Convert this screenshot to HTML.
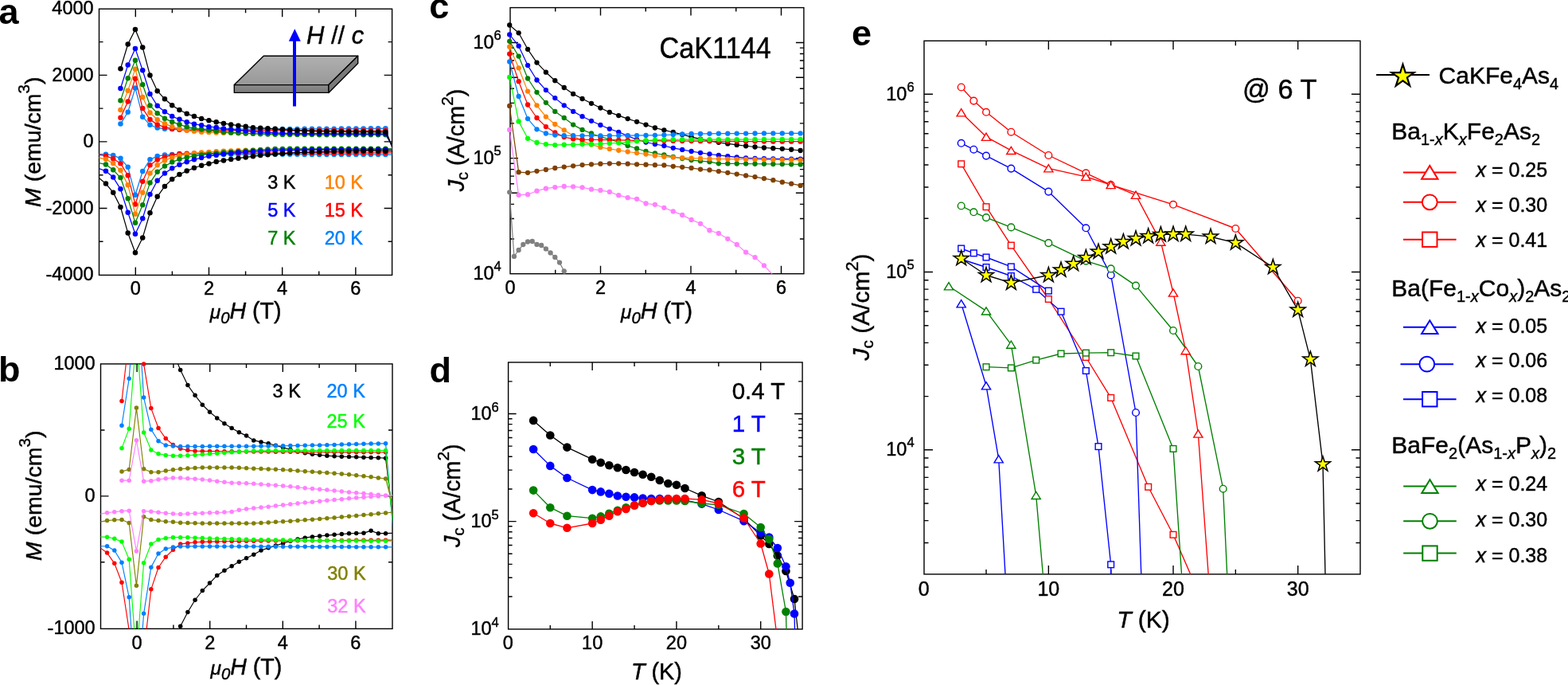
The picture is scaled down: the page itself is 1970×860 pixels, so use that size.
<!DOCTYPE html>
<html><head><meta charset="utf-8"><title>Figure</title><style>html,body{margin:0;padding:0;background:#fff;width:1970px;height:860px;overflow:hidden}svg{display:block}</style></head><body>
<svg width="1970" height="860" viewBox="0 0 1970 860" font-family="&quot;Liberation Sans&quot;, Arial, Helvetica, sans-serif"><clipPath id="ca"><rect x="124.5" y="11.2" width="368.1" height="334.2"/></clipPath>
<defs><linearGradient id="gtop" x1="0" y1="0" x2="0" y2="1"><stop offset="0" stop-color="#b0b0b0"/><stop offset="1" stop-color="#989898"/></linearGradient><linearGradient id="gfront" x1="0" y1="0" x2="0" y2="1"><stop offset="0" stop-color="#8c8c8c"/><stop offset="1" stop-color="#7a7a7a"/></linearGradient></defs>
<g stroke="#000" stroke-width="1.4" stroke-linejoin="round"><path d="M294.3,106.6 L331.2,70.2 L449.7,70.2 L412.9,106.6 Z" fill="url(#gtop)"/><path d="M294.3,106.6 L412.9,106.6 L412.9,116.4 L294.3,116.4 Z" fill="url(#gfront)"/><path d="M412.9,106.6 L449.7,70.2 L449.7,79.5 L412.9,116.4 Z" fill="#7a7a7a"/></g>
<path d="M370,133.5 V50" stroke="#0000ff" stroke-width="4" fill="none"/>
<path d="M370.3,36.2 L377.8,51.8 L362.8,51.8 Z" fill="#0000ff"/>
<text x="385" y="54.6" font-size="31" stroke="#000" stroke-width="0.45"><tspan font-style="italic">H</tspan> // <tspan font-style="italic">c</tspan></text>
<rect x="124.5" y="11.2" width="368.1" height="334.2" fill="none" stroke="#000" stroke-width="1.4"/>
<path d="M170.3,345.4v-10M170.3,11.2v10M262.48,345.4v-10M262.48,11.2v10M354.66,345.4v-10M354.66,11.2v10M446.84,345.4v-10M446.84,11.2v10" stroke="#000" stroke-width="1.4" fill="none"/>
<path d="M216.39,345.4v-5M216.39,11.2v5M308.57,345.4v-5M308.57,11.2v5M400.75,345.4v-5M400.75,11.2v5" stroke="#000" stroke-width="1.4" fill="none"/>
<path d="M124.5,261.45h10M492.6,261.45h-10M124.5,177.9h10M492.6,177.9h-10M124.5,94.35h10M492.6,94.35h-10" stroke="#000" stroke-width="1.4" fill="none"/>
<path d="M124.5,303.23h5M492.6,303.23h-5M124.5,219.68h5M492.6,219.68h-5M124.5,136.12h5M492.6,136.12h-5M124.5,52.58h5M492.6,52.58h-5" stroke="#000" stroke-width="1.4" fill="none"/>
<polyline points="151.45,155.55 160.7,140.72 169.95,110.43 179.2,146.69 188.45,156.8 197.69,160.48 206.94,161.77 216.19,162.03 225.44,162.19 234.69,162.19 243.93,162.19 253.18,162.17 262.43,162.15 271.68,162.14 280.93,162.13 290.17,162.13 299.42,162.12 308.67,162.11 317.92,162.09 327.17,162.07 336.41,162.04 345.66,162.01 354.91,161.98 364.16,161.95 373.41,161.91 382.65,161.87 391.9,161.82 401.15,161.77 410.4,161.72 419.65,161.65 428.89,161.58 438.14,161.5 447.39,161.44 456.64,161.38 465.89,161.33 475.13,161.28 484.38,161.23 493.63,188.38" fill="none" stroke="#0080ff" stroke-width="1.25" stroke-linejoin="round" clip-path="url(#ca)"/>
<polyline points="123.71,193.73 132.96,193.73 142.21,195.07 151.45,198.87 160.7,209.86 169.95,244.74 179.2,215.04 188.45,200.37 197.69,196.07 206.94,194.53 216.19,194.07 225.44,193.77 234.69,193.77 243.93,193.77 253.18,193.77 262.43,193.77 271.68,193.78 280.93,193.79 290.17,193.8 299.42,193.81 308.67,193.82 317.92,193.82 327.17,193.83 336.41,193.84 345.66,193.85 354.91,193.86 364.16,193.86 373.41,193.87 382.65,193.88 391.9,193.89 401.15,193.9 410.4,193.91 419.65,193.92 428.89,193.93 438.14,193.94 447.39,193.96 456.64,193.97 465.89,193.98 475.13,194 484.38,194.01 493.63,194.03" fill="none" stroke="#0080ff" stroke-width="1.25" stroke-linejoin="round" clip-path="url(#ca)"/>
<g fill="#0080ff"><circle cx="151.45" cy="155.55" r="3.25"/><circle cx="160.7" cy="140.72" r="3.25"/><circle cx="169.95" cy="110.43" r="3.25"/><circle cx="179.2" cy="146.69" r="3.25"/><circle cx="188.45" cy="156.8" r="3.25"/><circle cx="197.69" cy="160.48" r="3.25"/><circle cx="206.94" cy="161.77" r="3.25"/><circle cx="216.19" cy="162.03" r="3.25"/><circle cx="225.44" cy="162.19" r="3.25"/><circle cx="234.69" cy="162.19" r="3.25"/><circle cx="243.93" cy="162.19" r="3.25"/><circle cx="253.18" cy="162.17" r="3.25"/><circle cx="262.43" cy="162.15" r="3.25"/><circle cx="271.68" cy="162.14" r="3.25"/><circle cx="280.93" cy="162.13" r="3.25"/><circle cx="290.17" cy="162.13" r="3.25"/><circle cx="299.42" cy="162.12" r="3.25"/><circle cx="308.67" cy="162.11" r="3.25"/><circle cx="317.92" cy="162.09" r="3.25"/><circle cx="327.17" cy="162.07" r="3.25"/><circle cx="336.41" cy="162.04" r="3.25"/><circle cx="345.66" cy="162.01" r="3.25"/><circle cx="354.91" cy="161.98" r="3.25"/><circle cx="364.16" cy="161.95" r="3.25"/><circle cx="373.41" cy="161.91" r="3.25"/><circle cx="382.65" cy="161.87" r="3.25"/><circle cx="391.9" cy="161.82" r="3.25"/><circle cx="401.15" cy="161.77" r="3.25"/><circle cx="410.4" cy="161.72" r="3.25"/><circle cx="419.65" cy="161.65" r="3.25"/><circle cx="428.89" cy="161.58" r="3.25"/><circle cx="438.14" cy="161.5" r="3.25"/><circle cx="447.39" cy="161.44" r="3.25"/><circle cx="456.64" cy="161.38" r="3.25"/><circle cx="465.89" cy="161.33" r="3.25"/><circle cx="475.13" cy="161.28" r="3.25"/><circle cx="484.38" cy="161.23" r="3.25"/></g>
<g fill="#0080ff"><circle cx="132.96" cy="193.73" r="3.25"/><circle cx="142.21" cy="195.07" r="3.25"/><circle cx="151.45" cy="198.87" r="3.25"/><circle cx="160.7" cy="209.86" r="3.25"/><circle cx="169.95" cy="244.74" r="3.25"/><circle cx="179.2" cy="215.04" r="3.25"/><circle cx="188.45" cy="200.37" r="3.25"/><circle cx="197.69" cy="196.07" r="3.25"/><circle cx="206.94" cy="194.53" r="3.25"/><circle cx="216.19" cy="194.07" r="3.25"/><circle cx="225.44" cy="193.77" r="3.25"/><circle cx="234.69" cy="193.77" r="3.25"/><circle cx="243.93" cy="193.77" r="3.25"/><circle cx="253.18" cy="193.77" r="3.25"/><circle cx="262.43" cy="193.77" r="3.25"/><circle cx="271.68" cy="193.78" r="3.25"/><circle cx="280.93" cy="193.79" r="3.25"/><circle cx="290.17" cy="193.8" r="3.25"/><circle cx="299.42" cy="193.81" r="3.25"/><circle cx="308.67" cy="193.82" r="3.25"/><circle cx="317.92" cy="193.82" r="3.25"/><circle cx="327.17" cy="193.83" r="3.25"/><circle cx="336.41" cy="193.84" r="3.25"/><circle cx="345.66" cy="193.85" r="3.25"/><circle cx="354.91" cy="193.86" r="3.25"/><circle cx="364.16" cy="193.86" r="3.25"/><circle cx="373.41" cy="193.87" r="3.25"/><circle cx="382.65" cy="193.88" r="3.25"/><circle cx="391.9" cy="193.89" r="3.25"/><circle cx="401.15" cy="193.9" r="3.25"/><circle cx="410.4" cy="193.91" r="3.25"/><circle cx="419.65" cy="193.92" r="3.25"/><circle cx="428.89" cy="193.93" r="3.25"/><circle cx="438.14" cy="193.94" r="3.25"/><circle cx="447.39" cy="193.96" r="3.25"/><circle cx="456.64" cy="193.97" r="3.25"/><circle cx="465.89" cy="193.98" r="3.25"/><circle cx="475.13" cy="194" r="3.25"/><circle cx="484.38" cy="194.01" r="3.25"/></g>
<polyline points="151.45,147.82 160.7,127.52 169.95,98.65 179.2,136.12 188.45,150.12 197.69,156.39 206.94,159.69 216.19,161.69 225.44,162.86 234.69,163.4 243.93,163.61 253.18,163.67 262.43,163.7 271.68,163.73 280.93,163.76 290.17,163.78 299.42,163.81 308.67,163.82 317.92,163.83 327.17,163.84 336.41,163.85 345.66,163.85 354.91,163.86 364.16,163.88 373.41,163.9 382.65,163.92 391.9,163.93 401.15,163.95 410.4,163.96 419.65,163.97 428.89,163.97 438.14,163.98 447.39,163.99 456.64,164 465.89,164.01 475.13,164.02 484.38,164.03 493.63,186.94" fill="none" stroke="#ff0000" stroke-width="1.25" stroke-linejoin="round" clip-path="url(#ca)"/>
<polyline points="123.71,194.15 132.96,195.82 142.21,199.16 151.45,205.18 160.7,220.26 169.95,256.56 179.2,227.78 188.45,207.35 197.69,200.46 206.94,197.12 216.19,194.86 225.44,193.02 234.69,192.77 243.93,192.48 253.18,192.38 262.43,192.31 271.68,192.26 280.93,192.21 290.17,192.17 299.42,192.13 308.67,192.1 317.92,192.08 327.17,192.06 336.41,192.04 345.66,192.02 354.91,192.01 364.16,191.99 373.41,191.98 382.65,191.96 391.9,191.95 401.15,191.94 410.4,191.92 419.65,191.91 428.89,191.89 438.14,191.88 447.39,191.87 456.64,191.86 465.89,191.84 475.13,191.83 484.38,191.82 493.63,191.81" fill="none" stroke="#ff0000" stroke-width="1.25" stroke-linejoin="round" clip-path="url(#ca)"/>
<g fill="#ff0000"><circle cx="151.45" cy="147.82" r="3.25"/><circle cx="160.7" cy="127.52" r="3.25"/><circle cx="169.95" cy="98.65" r="3.25"/><circle cx="179.2" cy="136.12" r="3.25"/><circle cx="188.45" cy="150.12" r="3.25"/><circle cx="197.69" cy="156.39" r="3.25"/><circle cx="206.94" cy="159.69" r="3.25"/><circle cx="216.19" cy="161.69" r="3.25"/><circle cx="225.44" cy="162.86" r="3.25"/><circle cx="234.69" cy="163.4" r="3.25"/><circle cx="243.93" cy="163.61" r="3.25"/><circle cx="253.18" cy="163.67" r="3.25"/><circle cx="262.43" cy="163.7" r="3.25"/><circle cx="271.68" cy="163.73" r="3.25"/><circle cx="280.93" cy="163.76" r="3.25"/><circle cx="290.17" cy="163.78" r="3.25"/><circle cx="299.42" cy="163.81" r="3.25"/><circle cx="308.67" cy="163.82" r="3.25"/><circle cx="317.92" cy="163.83" r="3.25"/><circle cx="327.17" cy="163.84" r="3.25"/><circle cx="336.41" cy="163.85" r="3.25"/><circle cx="345.66" cy="163.85" r="3.25"/><circle cx="354.91" cy="163.86" r="3.25"/><circle cx="364.16" cy="163.88" r="3.25"/><circle cx="373.41" cy="163.9" r="3.25"/><circle cx="382.65" cy="163.92" r="3.25"/><circle cx="391.9" cy="163.93" r="3.25"/><circle cx="401.15" cy="163.95" r="3.25"/><circle cx="410.4" cy="163.96" r="3.25"/><circle cx="419.65" cy="163.97" r="3.25"/><circle cx="428.89" cy="163.97" r="3.25"/><circle cx="438.14" cy="163.98" r="3.25"/><circle cx="447.39" cy="163.99" r="3.25"/><circle cx="456.64" cy="164" r="3.25"/><circle cx="465.89" cy="164.01" r="3.25"/><circle cx="475.13" cy="164.02" r="3.25"/><circle cx="484.38" cy="164.03" r="3.25"/></g>
<g fill="#ff0000"><circle cx="132.96" cy="195.82" r="3.25"/><circle cx="142.21" cy="199.16" r="3.25"/><circle cx="151.45" cy="205.18" r="3.25"/><circle cx="160.7" cy="220.26" r="3.25"/><circle cx="169.95" cy="256.56" r="3.25"/><circle cx="179.2" cy="227.78" r="3.25"/><circle cx="188.45" cy="207.35" r="3.25"/><circle cx="197.69" cy="200.46" r="3.25"/><circle cx="206.94" cy="197.12" r="3.25"/><circle cx="216.19" cy="194.86" r="3.25"/><circle cx="225.44" cy="193.02" r="3.25"/><circle cx="234.69" cy="192.77" r="3.25"/><circle cx="243.93" cy="192.48" r="3.25"/><circle cx="253.18" cy="192.38" r="3.25"/><circle cx="262.43" cy="192.31" r="3.25"/><circle cx="271.68" cy="192.26" r="3.25"/><circle cx="280.93" cy="192.21" r="3.25"/><circle cx="290.17" cy="192.17" r="3.25"/><circle cx="299.42" cy="192.13" r="3.25"/><circle cx="308.67" cy="192.1" r="3.25"/><circle cx="317.92" cy="192.08" r="3.25"/><circle cx="327.17" cy="192.06" r="3.25"/><circle cx="336.41" cy="192.04" r="3.25"/><circle cx="345.66" cy="192.02" r="3.25"/><circle cx="354.91" cy="192.01" r="3.25"/><circle cx="364.16" cy="191.99" r="3.25"/><circle cx="373.41" cy="191.98" r="3.25"/><circle cx="382.65" cy="191.96" r="3.25"/><circle cx="391.9" cy="191.95" r="3.25"/><circle cx="401.15" cy="191.94" r="3.25"/><circle cx="410.4" cy="191.92" r="3.25"/><circle cx="419.65" cy="191.91" r="3.25"/><circle cx="428.89" cy="191.89" r="3.25"/><circle cx="438.14" cy="191.88" r="3.25"/><circle cx="447.39" cy="191.87" r="3.25"/><circle cx="456.64" cy="191.86" r="3.25"/><circle cx="465.89" cy="191.84" r="3.25"/><circle cx="475.13" cy="191.83" r="3.25"/><circle cx="484.38" cy="191.82" r="3.25"/></g>
<polyline points="151.45,138.05 160.7,113.65 169.95,86.66 179.2,121.92 188.45,141.51 197.69,150.2 206.94,155.13 216.19,159.1 225.44,161.61 234.69,163.61 243.93,164.82 253.18,165.7 262.43,166.12 271.68,166.41 280.93,166.66 290.17,166.87 299.42,167.06 308.67,167.25 317.92,167.43 327.17,167.61 336.41,167.77 345.66,167.91 354.91,168 364.16,168.06 373.41,168.12 382.65,168.17 391.9,168.2 401.15,168.21 410.4,168.21 419.65,168.21 428.89,168.21 438.14,168.21 447.39,168.21 456.64,168.21 465.89,168.21 475.13,168.21 484.38,168.21 493.63,184.2" fill="none" stroke="#ff8000" stroke-width="1.25" stroke-linejoin="round" clip-path="url(#ca)"/>
<polyline points="123.71,197.95 132.96,199.87 142.21,205.1 151.45,213.78 160.7,232.37 169.95,268.64 179.2,241.65 188.45,217.46 197.69,207.27 206.94,201.38 216.19,197.99 225.44,195.19 234.69,193.68 243.93,192.5 253.18,191.59 262.43,190.89 271.68,190.33 280.93,189.85 290.17,189.45 299.42,189.09 308.67,188.76 317.92,188.41 327.17,188.05 336.41,187.74 345.66,187.51 354.91,187.42 364.16,187.43 373.41,187.45 382.65,187.47 391.9,187.49 401.15,187.51 410.4,187.52 419.65,187.53 428.89,187.54 438.14,187.55 447.39,187.56 456.64,187.57 465.89,187.58 475.13,187.58 484.38,187.59 493.63,187.59" fill="none" stroke="#ff8000" stroke-width="1.25" stroke-linejoin="round" clip-path="url(#ca)"/>
<g fill="#ff8000"><circle cx="151.45" cy="138.05" r="3.25"/><circle cx="160.7" cy="113.65" r="3.25"/><circle cx="169.95" cy="86.66" r="3.25"/><circle cx="179.2" cy="121.92" r="3.25"/><circle cx="188.45" cy="141.51" r="3.25"/><circle cx="197.69" cy="150.2" r="3.25"/><circle cx="206.94" cy="155.13" r="3.25"/><circle cx="216.19" cy="159.1" r="3.25"/><circle cx="225.44" cy="161.61" r="3.25"/><circle cx="234.69" cy="163.61" r="3.25"/><circle cx="243.93" cy="164.82" r="3.25"/><circle cx="253.18" cy="165.7" r="3.25"/><circle cx="262.43" cy="166.12" r="3.25"/><circle cx="271.68" cy="166.41" r="3.25"/><circle cx="280.93" cy="166.66" r="3.25"/><circle cx="290.17" cy="166.87" r="3.25"/><circle cx="299.42" cy="167.06" r="3.25"/><circle cx="308.67" cy="167.25" r="3.25"/><circle cx="317.92" cy="167.43" r="3.25"/><circle cx="327.17" cy="167.61" r="3.25"/><circle cx="336.41" cy="167.77" r="3.25"/><circle cx="345.66" cy="167.91" r="3.25"/><circle cx="354.91" cy="168" r="3.25"/><circle cx="364.16" cy="168.06" r="3.25"/><circle cx="373.41" cy="168.12" r="3.25"/><circle cx="382.65" cy="168.17" r="3.25"/><circle cx="391.9" cy="168.2" r="3.25"/><circle cx="401.15" cy="168.21" r="3.25"/><circle cx="410.4" cy="168.21" r="3.25"/><circle cx="419.65" cy="168.21" r="3.25"/><circle cx="428.89" cy="168.21" r="3.25"/><circle cx="438.14" cy="168.21" r="3.25"/><circle cx="447.39" cy="168.21" r="3.25"/><circle cx="456.64" cy="168.21" r="3.25"/><circle cx="465.89" cy="168.21" r="3.25"/><circle cx="475.13" cy="168.21" r="3.25"/><circle cx="484.38" cy="168.21" r="3.25"/></g>
<g fill="#ff8000"><circle cx="132.96" cy="199.87" r="3.25"/><circle cx="142.21" cy="205.1" r="3.25"/><circle cx="151.45" cy="213.78" r="3.25"/><circle cx="160.7" cy="232.37" r="3.25"/><circle cx="169.95" cy="268.64" r="3.25"/><circle cx="179.2" cy="241.65" r="3.25"/><circle cx="188.45" cy="217.46" r="3.25"/><circle cx="197.69" cy="207.27" r="3.25"/><circle cx="206.94" cy="201.38" r="3.25"/><circle cx="216.19" cy="197.99" r="3.25"/><circle cx="225.44" cy="195.19" r="3.25"/><circle cx="234.69" cy="193.68" r="3.25"/><circle cx="243.93" cy="192.5" r="3.25"/><circle cx="253.18" cy="191.59" r="3.25"/><circle cx="262.43" cy="190.89" r="3.25"/><circle cx="271.68" cy="190.33" r="3.25"/><circle cx="280.93" cy="189.85" r="3.25"/><circle cx="290.17" cy="189.45" r="3.25"/><circle cx="299.42" cy="189.09" r="3.25"/><circle cx="308.67" cy="188.76" r="3.25"/><circle cx="317.92" cy="188.41" r="3.25"/><circle cx="327.17" cy="188.05" r="3.25"/><circle cx="336.41" cy="187.74" r="3.25"/><circle cx="345.66" cy="187.51" r="3.25"/><circle cx="354.91" cy="187.42" r="3.25"/><circle cx="364.16" cy="187.43" r="3.25"/><circle cx="373.41" cy="187.45" r="3.25"/><circle cx="382.65" cy="187.47" r="3.25"/><circle cx="391.9" cy="187.49" r="3.25"/><circle cx="401.15" cy="187.51" r="3.25"/><circle cx="410.4" cy="187.52" r="3.25"/><circle cx="419.65" cy="187.53" r="3.25"/><circle cx="428.89" cy="187.54" r="3.25"/><circle cx="438.14" cy="187.55" r="3.25"/><circle cx="447.39" cy="187.56" r="3.25"/><circle cx="456.64" cy="187.57" r="3.25"/><circle cx="465.89" cy="187.58" r="3.25"/><circle cx="475.13" cy="187.58" r="3.25"/><circle cx="484.38" cy="187.59" r="3.25"/></g>
<polyline points="151.45,126.14 160.7,98.28 169.95,75.68 179.2,106.26 188.45,132.45 197.69,142.14 206.94,148.82 216.19,152.92 225.44,156.3 234.69,159.31 243.93,161.02 253.18,162.4 262.43,163.61 271.68,164.82 280.93,165.7 290.17,166.39 299.42,166.98 308.67,167.46 317.92,167.85 327.17,168.22 336.41,168.54 345.66,168.78 354.91,168.92 364.16,168.99 373.41,169.04 382.65,169.09 391.9,169.12 401.15,169.13 410.4,169.13 419.65,169.13 428.89,169.13 438.14,169.13 447.39,169.13 456.64,169.13 465.89,169.13 475.13,169.13 484.38,169.13 493.63,183.66" fill="none" stroke="#008000" stroke-width="1.25" stroke-linejoin="round" clip-path="url(#ca)"/>
<polyline points="123.71,204.64 132.96,206.39 142.21,213.28 151.45,223.06 160.7,249.13 169.95,279.83 179.2,257.15 188.45,229.58 197.69,215.66 206.94,208.56 216.19,203.59 225.44,199.87 234.69,197.68 243.93,195.94 253.18,194.54 262.43,193.4 271.68,192.43 280.93,191.61 290.17,190.89 299.42,190.23 308.67,189.6 317.92,188.92 327.17,188.21 336.41,187.57 345.66,187.09 354.91,186.88 364.16,186.84 373.41,186.8 382.65,186.78 391.9,186.76 401.15,186.76 410.4,186.76 419.65,186.76 428.89,186.76 438.14,186.76 447.39,186.76 456.64,186.76 465.89,186.76 475.13,186.76 484.38,186.76 493.63,186.76" fill="none" stroke="#008000" stroke-width="1.25" stroke-linejoin="round" clip-path="url(#ca)"/>
<g fill="#008000"><circle cx="151.45" cy="126.14" r="3.25"/><circle cx="160.7" cy="98.28" r="3.25"/><circle cx="169.95" cy="75.68" r="3.25"/><circle cx="179.2" cy="106.26" r="3.25"/><circle cx="188.45" cy="132.45" r="3.25"/><circle cx="197.69" cy="142.14" r="3.25"/><circle cx="206.94" cy="148.82" r="3.25"/><circle cx="216.19" cy="152.92" r="3.25"/><circle cx="225.44" cy="156.3" r="3.25"/><circle cx="234.69" cy="159.31" r="3.25"/><circle cx="243.93" cy="161.02" r="3.25"/><circle cx="253.18" cy="162.4" r="3.25"/><circle cx="262.43" cy="163.61" r="3.25"/><circle cx="271.68" cy="164.82" r="3.25"/><circle cx="280.93" cy="165.7" r="3.25"/><circle cx="290.17" cy="166.39" r="3.25"/><circle cx="299.42" cy="166.98" r="3.25"/><circle cx="308.67" cy="167.46" r="3.25"/><circle cx="317.92" cy="167.85" r="3.25"/><circle cx="327.17" cy="168.22" r="3.25"/><circle cx="336.41" cy="168.54" r="3.25"/><circle cx="345.66" cy="168.78" r="3.25"/><circle cx="354.91" cy="168.92" r="3.25"/><circle cx="364.16" cy="168.99" r="3.25"/><circle cx="373.41" cy="169.04" r="3.25"/><circle cx="382.65" cy="169.09" r="3.25"/><circle cx="391.9" cy="169.12" r="3.25"/><circle cx="401.15" cy="169.13" r="3.25"/><circle cx="410.4" cy="169.13" r="3.25"/><circle cx="419.65" cy="169.13" r="3.25"/><circle cx="428.89" cy="169.13" r="3.25"/><circle cx="438.14" cy="169.13" r="3.25"/><circle cx="447.39" cy="169.13" r="3.25"/><circle cx="456.64" cy="169.13" r="3.25"/><circle cx="465.89" cy="169.13" r="3.25"/><circle cx="475.13" cy="169.13" r="3.25"/><circle cx="484.38" cy="169.13" r="3.25"/></g>
<g fill="#008000"><circle cx="132.96" cy="206.39" r="3.25"/><circle cx="142.21" cy="213.28" r="3.25"/><circle cx="151.45" cy="223.06" r="3.25"/><circle cx="160.7" cy="249.13" r="3.25"/><circle cx="169.95" cy="279.83" r="3.25"/><circle cx="179.2" cy="257.15" r="3.25"/><circle cx="188.45" cy="229.58" r="3.25"/><circle cx="197.69" cy="215.66" r="3.25"/><circle cx="206.94" cy="208.56" r="3.25"/><circle cx="216.19" cy="203.59" r="3.25"/><circle cx="225.44" cy="199.87" r="3.25"/><circle cx="234.69" cy="197.68" r="3.25"/><circle cx="243.93" cy="195.94" r="3.25"/><circle cx="253.18" cy="194.54" r="3.25"/><circle cx="262.43" cy="193.4" r="3.25"/><circle cx="271.68" cy="192.43" r="3.25"/><circle cx="280.93" cy="191.61" r="3.25"/><circle cx="290.17" cy="190.89" r="3.25"/><circle cx="299.42" cy="190.23" r="3.25"/><circle cx="308.67" cy="189.6" r="3.25"/><circle cx="317.92" cy="188.92" r="3.25"/><circle cx="327.17" cy="188.21" r="3.25"/><circle cx="336.41" cy="187.57" r="3.25"/><circle cx="345.66" cy="187.09" r="3.25"/><circle cx="354.91" cy="186.88" r="3.25"/><circle cx="364.16" cy="186.84" r="3.25"/><circle cx="373.41" cy="186.8" r="3.25"/><circle cx="382.65" cy="186.78" r="3.25"/><circle cx="391.9" cy="186.76" r="3.25"/><circle cx="401.15" cy="186.76" r="3.25"/><circle cx="410.4" cy="186.76" r="3.25"/><circle cx="419.65" cy="186.76" r="3.25"/><circle cx="428.89" cy="186.76" r="3.25"/><circle cx="438.14" cy="186.76" r="3.25"/><circle cx="447.39" cy="186.76" r="3.25"/><circle cx="456.64" cy="186.76" r="3.25"/><circle cx="465.89" cy="186.76" r="3.25"/><circle cx="475.13" cy="186.76" r="3.25"/><circle cx="484.38" cy="186.76" r="3.25"/></g>
<polyline points="151.45,111.06 160.7,81.57 169.95,61.1 179.2,88.25 188.45,118.04 197.69,132.82 206.94,140.3 216.19,146.07 225.44,149.79 234.69,153.25 243.93,155.63 253.18,157.3 262.43,159.23 271.68,159.89 280.93,161.52 290.17,162.4 299.42,163.4 308.67,164.32 317.92,165.2 327.17,165.91 336.41,166.33 345.66,166.79 354.91,167.12 364.16,167.28 373.41,167.41 382.65,167.51 391.9,167.59 401.15,167.67 410.4,167.74 419.65,167.8 428.89,167.86 438.14,167.91 447.39,167.96 456.64,168 465.89,168.03 475.13,168.06 484.38,168.08 493.63,184.28" fill="none" stroke="#0000ff" stroke-width="1.25" stroke-linejoin="round" clip-path="url(#ca)"/>
<polyline points="123.71,211.32 132.96,214.79 142.21,222.56 151.45,237.35 160.7,266.76 169.95,293.74 179.2,274.23 188.45,244.07 197.69,226.78 206.94,217.46 216.19,211.36 225.44,206.77 234.69,203.17 243.93,200.37 253.18,197.99 262.43,196.07 271.68,194.7 280.93,193.49 290.17,192.44 299.42,191.57 308.67,190.89 317.92,190.35 327.17,189.87 336.41,189.47 345.66,189.14 354.91,188.89 364.16,188.68 373.41,188.51 382.65,188.36 391.9,188.23 401.15,188.13 410.4,188.06 419.65,187.99 428.89,187.93 438.14,187.88 447.39,187.84 456.64,187.81 465.89,187.78 475.13,187.75 484.38,187.73 493.63,187.72" fill="none" stroke="#0000ff" stroke-width="1.25" stroke-linejoin="round" clip-path="url(#ca)"/>
<g fill="#0000ff"><circle cx="151.45" cy="111.06" r="3.25"/><circle cx="160.7" cy="81.57" r="3.25"/><circle cx="169.95" cy="61.1" r="3.25"/><circle cx="179.2" cy="88.25" r="3.25"/><circle cx="188.45" cy="118.04" r="3.25"/><circle cx="197.69" cy="132.82" r="3.25"/><circle cx="206.94" cy="140.3" r="3.25"/><circle cx="216.19" cy="146.07" r="3.25"/><circle cx="225.44" cy="149.79" r="3.25"/><circle cx="234.69" cy="153.25" r="3.25"/><circle cx="243.93" cy="155.63" r="3.25"/><circle cx="253.18" cy="157.3" r="3.25"/><circle cx="262.43" cy="159.23" r="3.25"/><circle cx="271.68" cy="159.89" r="3.25"/><circle cx="280.93" cy="161.52" r="3.25"/><circle cx="290.17" cy="162.4" r="3.25"/><circle cx="299.42" cy="163.4" r="3.25"/><circle cx="308.67" cy="164.32" r="3.25"/><circle cx="317.92" cy="165.2" r="3.25"/><circle cx="327.17" cy="165.91" r="3.25"/><circle cx="336.41" cy="166.33" r="3.25"/><circle cx="345.66" cy="166.79" r="3.25"/><circle cx="354.91" cy="167.12" r="3.25"/><circle cx="364.16" cy="167.28" r="3.25"/><circle cx="373.41" cy="167.41" r="3.25"/><circle cx="382.65" cy="167.51" r="3.25"/><circle cx="391.9" cy="167.59" r="3.25"/><circle cx="401.15" cy="167.67" r="3.25"/><circle cx="410.4" cy="167.74" r="3.25"/><circle cx="419.65" cy="167.8" r="3.25"/><circle cx="428.89" cy="167.86" r="3.25"/><circle cx="438.14" cy="167.91" r="3.25"/><circle cx="447.39" cy="167.96" r="3.25"/><circle cx="456.64" cy="168" r="3.25"/><circle cx="465.89" cy="168.03" r="3.25"/><circle cx="475.13" cy="168.06" r="3.25"/><circle cx="484.38" cy="168.08" r="3.25"/></g>
<g fill="#0000ff"><circle cx="132.96" cy="214.79" r="3.25"/><circle cx="142.21" cy="222.56" r="3.25"/><circle cx="151.45" cy="237.35" r="3.25"/><circle cx="160.7" cy="266.76" r="3.25"/><circle cx="169.95" cy="293.74" r="3.25"/><circle cx="179.2" cy="274.23" r="3.25"/><circle cx="188.45" cy="244.07" r="3.25"/><circle cx="197.69" cy="226.78" r="3.25"/><circle cx="206.94" cy="217.46" r="3.25"/><circle cx="216.19" cy="211.36" r="3.25"/><circle cx="225.44" cy="206.77" r="3.25"/><circle cx="234.69" cy="203.17" r="3.25"/><circle cx="243.93" cy="200.37" r="3.25"/><circle cx="253.18" cy="197.99" r="3.25"/><circle cx="262.43" cy="196.07" r="3.25"/><circle cx="271.68" cy="194.7" r="3.25"/><circle cx="280.93" cy="193.49" r="3.25"/><circle cx="290.17" cy="192.44" r="3.25"/><circle cx="299.42" cy="191.57" r="3.25"/><circle cx="308.67" cy="190.89" r="3.25"/><circle cx="317.92" cy="190.35" r="3.25"/><circle cx="327.17" cy="189.87" r="3.25"/><circle cx="336.41" cy="189.47" r="3.25"/><circle cx="345.66" cy="189.14" r="3.25"/><circle cx="354.91" cy="188.89" r="3.25"/><circle cx="364.16" cy="188.68" r="3.25"/><circle cx="373.41" cy="188.51" r="3.25"/><circle cx="382.65" cy="188.36" r="3.25"/><circle cx="391.9" cy="188.23" r="3.25"/><circle cx="401.15" cy="188.13" r="3.25"/><circle cx="410.4" cy="188.06" r="3.25"/><circle cx="419.65" cy="187.99" r="3.25"/><circle cx="428.89" cy="187.93" r="3.25"/><circle cx="438.14" cy="187.88" r="3.25"/><circle cx="447.39" cy="187.84" r="3.25"/><circle cx="456.64" cy="187.81" r="3.25"/><circle cx="465.89" cy="187.78" r="3.25"/><circle cx="475.13" cy="187.75" r="3.25"/><circle cx="484.38" cy="187.73" r="3.25"/></g>
<polyline points="151.45,86.16 160.7,55.5 169.95,36.91 179.2,59.59 188.45,94.56 197.69,114.15 206.94,124.34 216.19,132.32 225.44,138 234.69,142.81 243.93,146.03 253.18,148.99 262.43,151.29 271.68,153.21 280.93,154.92 290.17,156.39 299.42,157.68 308.67,158.81 317.92,160.27 327.17,160.77 336.41,161.23 345.66,161.86 354.91,162.53 364.16,163.19 373.41,163.78 382.65,164.24 391.9,164.62 401.15,164.9 410.4,165.12 419.65,165.26 428.89,165.37 438.14,165.46 447.39,165.53 456.64,165.62 465.89,165.7 475.13,165.79 484.38,165.87 493.63,185.5" fill="none" stroke="#000000" stroke-width="1.25" stroke-linejoin="round" clip-path="url(#ca)"/>
<polyline points="123.71,223.06 132.96,230.58 142.21,241.65 151.45,259.95 160.7,292.41 169.95,317.3 179.2,298.42 188.45,267.13 197.69,246.83 206.94,233.88 216.19,224.98 225.44,219.05 234.69,214.58 243.93,210.74 253.18,207.77 262.43,205.39 271.68,202.97 280.93,201.42 290.17,200 299.42,198.66 308.67,197.49 317.92,196.36 327.17,195.07 336.41,194.26 345.66,193.57 354.91,192.8 364.16,192.1 373.41,191.52 382.65,191.06 391.9,190.76 401.15,190.52 410.4,190.3 419.65,190.1 428.89,189.89 438.14,189.72 447.39,189.65 456.64,189.56 465.89,188.85 475.13,189.68 484.38,189.68 493.63,189.6" fill="none" stroke="#000000" stroke-width="1.25" stroke-linejoin="round" clip-path="url(#ca)"/>
<g fill="#000000"><circle cx="151.45" cy="86.16" r="3.25"/><circle cx="160.7" cy="55.5" r="3.25"/><circle cx="169.95" cy="36.91" r="3.25"/><circle cx="179.2" cy="59.59" r="3.25"/><circle cx="188.45" cy="94.56" r="3.25"/><circle cx="197.69" cy="114.15" r="3.25"/><circle cx="206.94" cy="124.34" r="3.25"/><circle cx="216.19" cy="132.32" r="3.25"/><circle cx="225.44" cy="138" r="3.25"/><circle cx="234.69" cy="142.81" r="3.25"/><circle cx="243.93" cy="146.03" r="3.25"/><circle cx="253.18" cy="148.99" r="3.25"/><circle cx="262.43" cy="151.29" r="3.25"/><circle cx="271.68" cy="153.21" r="3.25"/><circle cx="280.93" cy="154.92" r="3.25"/><circle cx="290.17" cy="156.39" r="3.25"/><circle cx="299.42" cy="157.68" r="3.25"/><circle cx="308.67" cy="158.81" r="3.25"/><circle cx="317.92" cy="160.27" r="3.25"/><circle cx="327.17" cy="160.77" r="3.25"/><circle cx="336.41" cy="161.23" r="3.25"/><circle cx="345.66" cy="161.86" r="3.25"/><circle cx="354.91" cy="162.53" r="3.25"/><circle cx="364.16" cy="163.19" r="3.25"/><circle cx="373.41" cy="163.78" r="3.25"/><circle cx="382.65" cy="164.24" r="3.25"/><circle cx="391.9" cy="164.62" r="3.25"/><circle cx="401.15" cy="164.9" r="3.25"/><circle cx="410.4" cy="165.12" r="3.25"/><circle cx="419.65" cy="165.26" r="3.25"/><circle cx="428.89" cy="165.37" r="3.25"/><circle cx="438.14" cy="165.46" r="3.25"/><circle cx="447.39" cy="165.53" r="3.25"/><circle cx="456.64" cy="165.62" r="3.25"/><circle cx="465.89" cy="165.7" r="3.25"/><circle cx="475.13" cy="165.79" r="3.25"/><circle cx="484.38" cy="165.87" r="3.25"/></g>
<g fill="#000000"><circle cx="132.96" cy="230.58" r="3.25"/><circle cx="142.21" cy="241.65" r="3.25"/><circle cx="151.45" cy="259.95" r="3.25"/><circle cx="160.7" cy="292.41" r="3.25"/><circle cx="169.95" cy="317.3" r="3.25"/><circle cx="179.2" cy="298.42" r="3.25"/><circle cx="188.45" cy="267.13" r="3.25"/><circle cx="197.69" cy="246.83" r="3.25"/><circle cx="206.94" cy="233.88" r="3.25"/><circle cx="216.19" cy="224.98" r="3.25"/><circle cx="225.44" cy="219.05" r="3.25"/><circle cx="234.69" cy="214.58" r="3.25"/><circle cx="243.93" cy="210.74" r="3.25"/><circle cx="253.18" cy="207.77" r="3.25"/><circle cx="262.43" cy="205.39" r="3.25"/><circle cx="271.68" cy="202.97" r="3.25"/><circle cx="280.93" cy="201.42" r="3.25"/><circle cx="290.17" cy="200" r="3.25"/><circle cx="299.42" cy="198.66" r="3.25"/><circle cx="308.67" cy="197.49" r="3.25"/><circle cx="317.92" cy="196.36" r="3.25"/><circle cx="327.17" cy="195.07" r="3.25"/><circle cx="336.41" cy="194.26" r="3.25"/><circle cx="345.66" cy="193.57" r="3.25"/><circle cx="354.91" cy="192.8" r="3.25"/><circle cx="364.16" cy="192.1" r="3.25"/><circle cx="373.41" cy="191.52" r="3.25"/><circle cx="382.65" cy="191.06" r="3.25"/><circle cx="391.9" cy="190.76" r="3.25"/><circle cx="401.15" cy="190.52" r="3.25"/><circle cx="410.4" cy="190.3" r="3.25"/><circle cx="419.65" cy="190.1" r="3.25"/><circle cx="428.89" cy="189.89" r="3.25"/><circle cx="438.14" cy="189.72" r="3.25"/><circle cx="447.39" cy="189.65" r="3.25"/><circle cx="456.64" cy="189.56" r="3.25"/><circle cx="465.89" cy="188.85" r="3.25"/><circle cx="475.13" cy="189.68" r="3.25"/><circle cx="484.38" cy="189.68" r="3.25"/></g>
<text x="170.3" y="370.2" font-size="23.5" text-anchor="middle" stroke="#000" stroke-width="0.45">0</text>
<text x="262.48" y="370.2" font-size="23.5" text-anchor="middle" stroke="#000" stroke-width="0.45">2</text>
<text x="354.66" y="370.2" font-size="23.5" text-anchor="middle" stroke="#000" stroke-width="0.45">4</text>
<text x="446.84" y="370.2" font-size="23.5" text-anchor="middle" stroke="#000" stroke-width="0.45">6</text>
<text x="117.6" y="18.2" font-size="23.5" text-anchor="end" stroke="#000" stroke-width="0.45">4000</text>
<text x="117.6" y="101.75" font-size="23.5" text-anchor="end" stroke="#000" stroke-width="0.45">2000</text>
<text x="117.6" y="185.3" font-size="23.5" text-anchor="end" stroke="#000" stroke-width="0.45">0</text>
<text x="117.6" y="268.85" font-size="23.5" text-anchor="end" stroke="#000" stroke-width="0.45">-2000</text>
<text x="117.6" y="352.4" font-size="23.5" text-anchor="end" stroke="#000" stroke-width="0.45">-4000</text>
<text x="308.6" y="400.4" font-size="28.6" text-anchor="middle" stroke="#000" stroke-width="0.45"><tspan font-style="italic" font-size="24.6">μ</tspan><tspan font-style="italic" font-size="20.31" dy="6">0</tspan><tspan font-style="italic" dy="-6">H</tspan> (T)</text>
<text transform="translate(51.1,178.2) rotate(-90)" x="0" y="0" font-size="28.5" text-anchor="middle" stroke="#000" stroke-width="0.45"><tspan font-style="italic">M</tspan> (emu/cm<tspan font-size="20.52" dy="-14">3</tspan><tspan dy="14">)</tspan></text>
<text x="336.2" y="237" font-size="23.5" fill="#000000" stroke="#000000" stroke-width="0.45">3 K</text>
<text x="407.7" y="237" font-size="23.5" fill="#ff8000" stroke="#ff8000" stroke-width="0.45">10 K</text>
<text x="336.2" y="272" font-size="23.5" fill="#0000ff" stroke="#0000ff" stroke-width="0.45">5 K</text>
<text x="407.7" y="272" font-size="23.5" fill="#ff0000" stroke="#ff0000" stroke-width="0.45">15 K</text>
<text x="336.2" y="306.8" font-size="23.5" fill="#008000" stroke="#008000" stroke-width="0.45">7 K</text>
<text x="407.7" y="306.8" font-size="23.5" fill="#0080ff" stroke="#0080ff" stroke-width="0.45">20 K</text>
<text x="-1.5" y="29.5" font-size="45" font-weight="bold" stroke="#000" stroke-width="0">a</text>
<clipPath id="cb"><rect x="126.5" y="456.9" width="366.5" height="332.5"/></clipPath>
<rect x="126.5" y="456.9" width="366.5" height="332.5" fill="none" stroke="#000" stroke-width="1.4"/>
<path d="M172.1,789.4v-10M172.1,456.9v10M263.7,789.4v-10M263.7,456.9v10M355.3,789.4v-10M355.3,456.9v10M446.9,789.4v-10M446.9,456.9v10" stroke="#000" stroke-width="1.4" fill="none"/>
<path d="M217.9,789.4v-5M217.9,456.9v5M309.5,789.4v-5M309.5,456.9v5M401.1,789.4v-5M401.1,456.9v5" stroke="#000" stroke-width="1.4" fill="none"/>
<path d="M126.5,622.9h10M493,622.9h-10" stroke="#000" stroke-width="1.4" fill="none"/>
<path d="M126.5,705.82h5M493,705.82h-5M126.5,539.98h5M493,539.98h-5" stroke="#000" stroke-width="1.4" fill="none"/>
<polyline points="152.98,258.69 162.19,136.96 171.4,63.16 180.61,153.21 189.82,292.03 199.03,369.81 208.24,410.28 217.45,441.96 226.66,464.51 235.87,483.59 245.08,496.36 254.29,508.13 263.5,517.25 272.71,524.88 281.92,531.68 291.13,537.49 300.34,542.63 309.55,547.11 318.76,552.91 327.97,554.9 337.18,556.73 346.39,559.21 355.6,561.87 364.81,564.5 374.02,566.84 383.23,568.69 392.44,570.16 401.65,571.3 410.86,572.15 420.07,572.71 429.28,573.14 438.49,573.49 447.7,573.81 456.91,574.14 466.12,574.47 475.33,574.8 484.54,575.14 493.75,653.08" fill="none" stroke="#000000" stroke-width="1.15" stroke-linejoin="round" clip-path="url(#cb)"/>
<polyline points="125.35,802.18 134.56,832.04 143.77,875.99 152.98,948.63 162.19,1077.49 171.4,1176.34 180.61,1101.38 189.82,977.16 199.03,896.55 208.24,845.14 217.45,809.81 226.66,786.26 235.87,768.52 245.08,753.26 254.29,741.48 263.5,732.03 272.71,722.41 281.92,716.27 291.13,710.63 300.34,705.33 309.55,700.68 318.76,696.21 327.97,691.06 337.18,687.84 346.39,685.09 355.6,682.06 364.81,679.29 374.02,676.97 383.23,675.14 392.44,673.94 401.65,672.99 410.86,672.12 420.07,671.33 429.28,670.5 438.49,669.84 447.7,669.55 456.91,669.17 466.12,666.35 475.33,669.67 484.54,669.67 493.75,669.34" fill="none" stroke="#000000" stroke-width="1.15" stroke-linejoin="round" clip-path="url(#cb)"/>
<g fill="#000000"><circle cx="226.66" cy="464.51" r="2.75"/><circle cx="235.87" cy="483.59" r="2.75"/><circle cx="245.08" cy="496.36" r="2.75"/><circle cx="254.29" cy="508.13" r="2.75"/><circle cx="263.5" cy="517.25" r="2.75"/><circle cx="272.71" cy="524.88" r="2.75"/><circle cx="281.92" cy="531.68" r="2.75"/><circle cx="291.13" cy="537.49" r="2.75"/><circle cx="300.34" cy="542.63" r="2.75"/><circle cx="309.55" cy="547.11" r="2.75"/><circle cx="318.76" cy="552.91" r="2.75"/><circle cx="327.97" cy="554.9" r="2.75"/><circle cx="337.18" cy="556.73" r="2.75"/><circle cx="346.39" cy="559.21" r="2.75"/><circle cx="355.6" cy="561.87" r="2.75"/><circle cx="364.81" cy="564.5" r="2.75"/><circle cx="374.02" cy="566.84" r="2.75"/><circle cx="383.23" cy="568.69" r="2.75"/><circle cx="392.44" cy="570.16" r="2.75"/><circle cx="401.65" cy="571.3" r="2.75"/><circle cx="410.86" cy="572.15" r="2.75"/><circle cx="420.07" cy="572.71" r="2.75"/><circle cx="429.28" cy="573.14" r="2.75"/><circle cx="438.49" cy="573.49" r="2.75"/><circle cx="447.7" cy="573.81" r="2.75"/><circle cx="456.91" cy="574.14" r="2.75"/><circle cx="466.12" cy="574.47" r="2.75"/><circle cx="475.33" cy="574.8" r="2.75"/><circle cx="484.54" cy="575.14" r="2.75"/></g>
<g fill="#000000"><circle cx="226.66" cy="786.26" r="2.75"/><circle cx="235.87" cy="768.52" r="2.75"/><circle cx="245.08" cy="753.26" r="2.75"/><circle cx="254.29" cy="741.48" r="2.75"/><circle cx="263.5" cy="732.03" r="2.75"/><circle cx="272.71" cy="722.41" r="2.75"/><circle cx="281.92" cy="716.27" r="2.75"/><circle cx="291.13" cy="710.63" r="2.75"/><circle cx="300.34" cy="705.33" r="2.75"/><circle cx="309.55" cy="700.68" r="2.75"/><circle cx="318.76" cy="696.21" r="2.75"/><circle cx="327.97" cy="691.06" r="2.75"/><circle cx="337.18" cy="687.84" r="2.75"/><circle cx="346.39" cy="685.09" r="2.75"/><circle cx="355.6" cy="682.06" r="2.75"/><circle cx="364.81" cy="679.29" r="2.75"/><circle cx="374.02" cy="676.97" r="2.75"/><circle cx="383.23" cy="675.14" r="2.75"/><circle cx="392.44" cy="673.94" r="2.75"/><circle cx="401.65" cy="672.99" r="2.75"/><circle cx="410.86" cy="672.12" r="2.75"/><circle cx="420.07" cy="671.33" r="2.75"/><circle cx="429.28" cy="670.5" r="2.75"/><circle cx="438.49" cy="669.84" r="2.75"/><circle cx="447.7" cy="669.55" r="2.75"/><circle cx="456.91" cy="669.17" r="2.75"/><circle cx="466.12" cy="666.35" r="2.75"/><circle cx="475.33" cy="669.67" r="2.75"/><circle cx="484.54" cy="669.67" r="2.75"/></g>
<polyline points="152.98,503.49 162.19,422.88 171.4,308.28 180.61,457.05 189.82,512.61 199.03,537.49 208.24,550.59 217.45,558.55 226.66,563.19 235.87,565.35 245.08,566.18 254.29,566.39 263.5,566.51 272.71,566.64 281.92,566.76 291.13,566.86 300.34,566.95 309.55,567.01 318.76,567.05 327.97,567.08 337.18,567.11 346.39,567.14 355.6,567.17 364.81,567.23 374.02,567.3 383.23,567.38 392.44,567.45 401.65,567.51 410.86,567.55 420.07,567.58 429.28,567.61 438.49,567.64 447.7,567.67 456.91,567.71 466.12,567.75 475.33,567.79 484.54,567.84 493.75,658.8" fill="none" stroke="#ff0000" stroke-width="1.15" stroke-linejoin="round" clip-path="url(#cb)"/>
<polyline points="125.35,687.42 134.56,694.05 143.77,707.32 152.98,731.2 162.19,791.07 171.4,935.2 180.61,820.92 189.82,739.82 199.03,712.46 208.24,699.19 217.45,690.24 226.66,682.94 235.87,681.94 245.08,680.78 254.29,680.37 263.5,680.12 272.71,679.9 281.92,679.71 291.13,679.54 300.34,679.4 309.55,679.29 318.76,679.19 327.97,679.11 337.18,679.04 346.39,678.97 355.6,678.9 364.81,678.85 374.02,678.79 383.23,678.74 392.44,678.68 401.65,678.63 410.86,678.57 420.07,678.51 429.28,678.46 438.49,678.41 447.7,678.36 456.91,678.31 466.12,678.26 475.33,678.21 484.54,678.17 493.75,678.13" fill="none" stroke="#ff0000" stroke-width="1.15" stroke-linejoin="round" clip-path="url(#cb)"/>
<g fill="#ff0000"><circle cx="152.98" cy="503.49" r="2.75"/><circle cx="180.61" cy="457.05" r="2.75"/><circle cx="189.82" cy="512.61" r="2.75"/><circle cx="199.03" cy="537.49" r="2.75"/><circle cx="208.24" cy="550.59" r="2.75"/><circle cx="217.45" cy="558.55" r="2.75"/><circle cx="226.66" cy="563.19" r="2.75"/><circle cx="235.87" cy="565.35" r="2.75"/><circle cx="245.08" cy="566.18" r="2.75"/><circle cx="254.29" cy="566.39" r="2.75"/><circle cx="263.5" cy="566.51" r="2.75"/><circle cx="272.71" cy="566.64" r="2.75"/><circle cx="281.92" cy="566.76" r="2.75"/><circle cx="291.13" cy="566.86" r="2.75"/><circle cx="300.34" cy="566.95" r="2.75"/><circle cx="309.55" cy="567.01" r="2.75"/><circle cx="318.76" cy="567.05" r="2.75"/><circle cx="327.97" cy="567.08" r="2.75"/><circle cx="337.18" cy="567.11" r="2.75"/><circle cx="346.39" cy="567.14" r="2.75"/><circle cx="355.6" cy="567.17" r="2.75"/><circle cx="364.81" cy="567.23" r="2.75"/><circle cx="374.02" cy="567.3" r="2.75"/><circle cx="383.23" cy="567.38" r="2.75"/><circle cx="392.44" cy="567.45" r="2.75"/><circle cx="401.65" cy="567.51" r="2.75"/><circle cx="410.86" cy="567.55" r="2.75"/><circle cx="420.07" cy="567.58" r="2.75"/><circle cx="429.28" cy="567.61" r="2.75"/><circle cx="438.49" cy="567.64" r="2.75"/><circle cx="447.7" cy="567.67" r="2.75"/><circle cx="456.91" cy="567.71" r="2.75"/><circle cx="466.12" cy="567.75" r="2.75"/><circle cx="475.33" cy="567.79" r="2.75"/><circle cx="484.54" cy="567.84" r="2.75"/></g>
<g fill="#ff0000"><circle cx="134.56" cy="694.05" r="2.75"/><circle cx="143.77" cy="707.32" r="2.75"/><circle cx="152.98" cy="731.2" r="2.75"/><circle cx="189.82" cy="739.82" r="2.75"/><circle cx="199.03" cy="712.46" r="2.75"/><circle cx="208.24" cy="699.19" r="2.75"/><circle cx="217.45" cy="690.24" r="2.75"/><circle cx="226.66" cy="682.94" r="2.75"/><circle cx="235.87" cy="681.94" r="2.75"/><circle cx="245.08" cy="680.78" r="2.75"/><circle cx="254.29" cy="680.37" r="2.75"/><circle cx="263.5" cy="680.12" r="2.75"/><circle cx="272.71" cy="679.9" r="2.75"/><circle cx="281.92" cy="679.71" r="2.75"/><circle cx="291.13" cy="679.54" r="2.75"/><circle cx="300.34" cy="679.4" r="2.75"/><circle cx="309.55" cy="679.29" r="2.75"/><circle cx="318.76" cy="679.19" r="2.75"/><circle cx="327.97" cy="679.11" r="2.75"/><circle cx="337.18" cy="679.04" r="2.75"/><circle cx="346.39" cy="678.97" r="2.75"/><circle cx="355.6" cy="678.9" r="2.75"/><circle cx="364.81" cy="678.85" r="2.75"/><circle cx="374.02" cy="678.79" r="2.75"/><circle cx="383.23" cy="678.74" r="2.75"/><circle cx="392.44" cy="678.68" r="2.75"/><circle cx="401.65" cy="678.63" r="2.75"/><circle cx="410.86" cy="678.57" r="2.75"/><circle cx="420.07" cy="678.51" r="2.75"/><circle cx="429.28" cy="678.46" r="2.75"/><circle cx="438.49" cy="678.41" r="2.75"/><circle cx="447.7" cy="678.36" r="2.75"/><circle cx="456.91" cy="678.31" r="2.75"/><circle cx="466.12" cy="678.26" r="2.75"/><circle cx="475.33" cy="678.21" r="2.75"/><circle cx="484.54" cy="678.17" r="2.75"/></g>
<polyline points="152.98,534.17 162.19,475.29 171.4,355.05 180.61,499.01 189.82,539.15 199.03,553.74 208.24,558.88 217.45,559.88 226.66,560.54 235.87,560.54 245.08,560.54 254.29,560.47 263.5,560.37 272.71,560.33 281.92,560.3 291.13,560.28 300.34,560.25 309.55,560.21 318.76,560.15 327.97,560.06 337.18,559.95 346.39,559.83 355.6,559.71 364.81,559.58 374.02,559.43 383.23,559.26 392.44,559.08 401.65,558.88 410.86,558.65 420.07,558.38 429.28,558.09 438.49,557.81 447.7,557.56 456.91,557.33 466.12,557.12 475.33,556.91 484.54,556.73 493.75,664.51" fill="none" stroke="#0080ff" stroke-width="1.15" stroke-linejoin="round" clip-path="url(#cb)"/>
<polyline points="125.35,685.76 134.56,685.76 143.77,691.06 152.98,706.16 162.19,749.78 171.4,888.26 180.61,770.34 189.82,712.13 199.03,695.04 208.24,688.91 217.45,687.08 226.66,685.92 235.87,685.92 245.08,685.92 254.29,685.92 263.5,685.92 272.71,685.93 281.92,685.97 291.13,686.01 300.34,686.05 309.55,686.09 318.76,686.12 327.97,686.15 337.18,686.18 346.39,686.22 355.6,686.25 364.81,686.28 374.02,686.31 383.23,686.35 392.44,686.38 401.65,686.42 410.86,686.46 420.07,686.5 429.28,686.55 438.49,686.6 447.7,686.65 456.91,686.7 466.12,686.75 475.33,686.8 484.54,686.86 493.75,686.92" fill="none" stroke="#0080ff" stroke-width="1.15" stroke-linejoin="round" clip-path="url(#cb)"/>
<g fill="#0080ff"><circle cx="152.98" cy="534.17" r="2.75"/><circle cx="162.19" cy="475.29" r="2.75"/><circle cx="180.61" cy="499.01" r="2.75"/><circle cx="189.82" cy="539.15" r="2.75"/><circle cx="199.03" cy="553.74" r="2.75"/><circle cx="208.24" cy="558.88" r="2.75"/><circle cx="217.45" cy="559.88" r="2.75"/><circle cx="226.66" cy="560.54" r="2.75"/><circle cx="235.87" cy="560.54" r="2.75"/><circle cx="245.08" cy="560.54" r="2.75"/><circle cx="254.29" cy="560.47" r="2.75"/><circle cx="263.5" cy="560.37" r="2.75"/><circle cx="272.71" cy="560.33" r="2.75"/><circle cx="281.92" cy="560.3" r="2.75"/><circle cx="291.13" cy="560.28" r="2.75"/><circle cx="300.34" cy="560.25" r="2.75"/><circle cx="309.55" cy="560.21" r="2.75"/><circle cx="318.76" cy="560.15" r="2.75"/><circle cx="327.97" cy="560.06" r="2.75"/><circle cx="337.18" cy="559.95" r="2.75"/><circle cx="346.39" cy="559.83" r="2.75"/><circle cx="355.6" cy="559.71" r="2.75"/><circle cx="364.81" cy="559.58" r="2.75"/><circle cx="374.02" cy="559.43" r="2.75"/><circle cx="383.23" cy="559.26" r="2.75"/><circle cx="392.44" cy="559.08" r="2.75"/><circle cx="401.65" cy="558.88" r="2.75"/><circle cx="410.86" cy="558.65" r="2.75"/><circle cx="420.07" cy="558.38" r="2.75"/><circle cx="429.28" cy="558.09" r="2.75"/><circle cx="438.49" cy="557.81" r="2.75"/><circle cx="447.7" cy="557.56" r="2.75"/><circle cx="456.91" cy="557.33" r="2.75"/><circle cx="466.12" cy="557.12" r="2.75"/><circle cx="475.33" cy="556.91" r="2.75"/><circle cx="484.54" cy="556.73" r="2.75"/></g>
<g fill="#0080ff"><circle cx="134.56" cy="685.76" r="2.75"/><circle cx="143.77" cy="691.06" r="2.75"/><circle cx="152.98" cy="706.16" r="2.75"/><circle cx="162.19" cy="749.78" r="2.75"/><circle cx="180.61" cy="770.34" r="2.75"/><circle cx="189.82" cy="712.13" r="2.75"/><circle cx="199.03" cy="695.04" r="2.75"/><circle cx="208.24" cy="688.91" r="2.75"/><circle cx="217.45" cy="687.08" r="2.75"/><circle cx="226.66" cy="685.92" r="2.75"/><circle cx="235.87" cy="685.92" r="2.75"/><circle cx="245.08" cy="685.92" r="2.75"/><circle cx="254.29" cy="685.92" r="2.75"/><circle cx="263.5" cy="685.92" r="2.75"/><circle cx="272.71" cy="685.93" r="2.75"/><circle cx="281.92" cy="685.97" r="2.75"/><circle cx="291.13" cy="686.01" r="2.75"/><circle cx="300.34" cy="686.05" r="2.75"/><circle cx="309.55" cy="686.09" r="2.75"/><circle cx="318.76" cy="686.12" r="2.75"/><circle cx="327.97" cy="686.15" r="2.75"/><circle cx="337.18" cy="686.18" r="2.75"/><circle cx="346.39" cy="686.22" r="2.75"/><circle cx="355.6" cy="686.25" r="2.75"/><circle cx="364.81" cy="686.28" r="2.75"/><circle cx="374.02" cy="686.31" r="2.75"/><circle cx="383.23" cy="686.35" r="2.75"/><circle cx="392.44" cy="686.38" r="2.75"/><circle cx="401.65" cy="686.42" r="2.75"/><circle cx="410.86" cy="686.46" r="2.75"/><circle cx="420.07" cy="686.5" r="2.75"/><circle cx="429.28" cy="686.55" r="2.75"/><circle cx="438.49" cy="686.6" r="2.75"/><circle cx="447.7" cy="686.65" r="2.75"/><circle cx="456.91" cy="686.7" r="2.75"/><circle cx="466.12" cy="686.75" r="2.75"/><circle cx="475.33" cy="686.8" r="2.75"/><circle cx="484.54" cy="686.86" r="2.75"/></g>
<polyline points="152.98,562.86 162.19,538.15 171.4,418.9 180.61,542.96 189.82,565.02 199.03,569.66 208.24,571.49 217.45,572.15 226.66,572.15 235.87,571.79 245.08,571.15 254.29,570.52 263.5,569.83 272.71,569.16 281.92,568.5 291.13,567.83 300.34,567.17 309.55,566.48 318.76,566.01 327.97,565.88 337.18,565.79 346.39,565.73 355.6,565.68 364.81,565.63 374.02,565.59 383.23,565.55 392.44,565.53 401.65,565.52 410.86,565.52 420.07,565.52 429.28,565.52 438.49,565.52 447.7,565.52 456.91,565.52 466.12,565.52 475.33,565.52 484.54,565.52 493.75,659.55" fill="none" stroke="#00ff00" stroke-width="1.15" stroke-linejoin="round" clip-path="url(#cb)"/>
<polyline points="125.35,674.15 134.56,674.15 143.77,676.3 152.98,680.12 162.19,702.18 171.4,826.9 180.61,706.82 189.82,682.94 199.03,677.46 208.24,675.64 217.45,674.65 226.66,674.65 235.87,674.8 245.08,675.17 254.29,675.6 263.5,675.97 272.71,676.26 281.92,676.54 291.13,676.8 300.34,677.05 309.55,677.27 318.76,677.46 327.97,677.63 337.18,677.79 346.39,677.94 355.6,678.08 364.81,678.2 374.02,678.32 383.23,678.43 392.44,678.53 401.65,678.63 410.86,678.71 420.07,678.8 429.28,678.88 438.49,678.95 447.7,679.03 456.91,679.09 466.12,679.15 475.33,679.21 484.54,679.25 493.75,679.29" fill="none" stroke="#00ff00" stroke-width="1.15" stroke-linejoin="round" clip-path="url(#cb)"/>
<g fill="#00ff00"><circle cx="152.98" cy="562.86" r="2.75"/><circle cx="162.19" cy="538.15" r="2.75"/><circle cx="180.61" cy="542.96" r="2.75"/><circle cx="189.82" cy="565.02" r="2.75"/><circle cx="199.03" cy="569.66" r="2.75"/><circle cx="208.24" cy="571.49" r="2.75"/><circle cx="217.45" cy="572.15" r="2.75"/><circle cx="226.66" cy="572.15" r="2.75"/><circle cx="235.87" cy="571.79" r="2.75"/><circle cx="245.08" cy="571.15" r="2.75"/><circle cx="254.29" cy="570.52" r="2.75"/><circle cx="263.5" cy="569.83" r="2.75"/><circle cx="272.71" cy="569.16" r="2.75"/><circle cx="281.92" cy="568.5" r="2.75"/><circle cx="291.13" cy="567.83" r="2.75"/><circle cx="300.34" cy="567.17" r="2.75"/><circle cx="309.55" cy="566.48" r="2.75"/><circle cx="318.76" cy="566.01" r="2.75"/><circle cx="327.97" cy="565.88" r="2.75"/><circle cx="337.18" cy="565.79" r="2.75"/><circle cx="346.39" cy="565.73" r="2.75"/><circle cx="355.6" cy="565.68" r="2.75"/><circle cx="364.81" cy="565.63" r="2.75"/><circle cx="374.02" cy="565.59" r="2.75"/><circle cx="383.23" cy="565.55" r="2.75"/><circle cx="392.44" cy="565.53" r="2.75"/><circle cx="401.65" cy="565.52" r="2.75"/><circle cx="410.86" cy="565.52" r="2.75"/><circle cx="420.07" cy="565.52" r="2.75"/><circle cx="429.28" cy="565.52" r="2.75"/><circle cx="438.49" cy="565.52" r="2.75"/><circle cx="447.7" cy="565.52" r="2.75"/><circle cx="456.91" cy="565.52" r="2.75"/><circle cx="466.12" cy="565.52" r="2.75"/><circle cx="475.33" cy="565.52" r="2.75"/><circle cx="484.54" cy="565.52" r="2.75"/></g>
<g fill="#00ff00"><circle cx="134.56" cy="674.15" r="2.75"/><circle cx="143.77" cy="676.3" r="2.75"/><circle cx="152.98" cy="680.12" r="2.75"/><circle cx="162.19" cy="702.18" r="2.75"/><circle cx="180.61" cy="706.82" r="2.75"/><circle cx="189.82" cy="682.94" r="2.75"/><circle cx="199.03" cy="677.46" r="2.75"/><circle cx="208.24" cy="675.64" r="2.75"/><circle cx="217.45" cy="674.65" r="2.75"/><circle cx="226.66" cy="674.65" r="2.75"/><circle cx="235.87" cy="674.8" r="2.75"/><circle cx="245.08" cy="675.17" r="2.75"/><circle cx="254.29" cy="675.6" r="2.75"/><circle cx="263.5" cy="675.97" r="2.75"/><circle cx="272.71" cy="676.26" r="2.75"/><circle cx="281.92" cy="676.54" r="2.75"/><circle cx="291.13" cy="676.8" r="2.75"/><circle cx="300.34" cy="677.05" r="2.75"/><circle cx="309.55" cy="677.27" r="2.75"/><circle cx="318.76" cy="677.46" r="2.75"/><circle cx="327.97" cy="677.63" r="2.75"/><circle cx="337.18" cy="677.79" r="2.75"/><circle cx="346.39" cy="677.94" r="2.75"/><circle cx="355.6" cy="678.08" r="2.75"/><circle cx="364.81" cy="678.2" r="2.75"/><circle cx="374.02" cy="678.32" r="2.75"/><circle cx="383.23" cy="678.43" r="2.75"/><circle cx="392.44" cy="678.53" r="2.75"/><circle cx="401.65" cy="678.63" r="2.75"/><circle cx="410.86" cy="678.71" r="2.75"/><circle cx="420.07" cy="678.8" r="2.75"/><circle cx="429.28" cy="678.88" r="2.75"/><circle cx="438.49" cy="678.95" r="2.75"/><circle cx="447.7" cy="679.03" r="2.75"/><circle cx="456.91" cy="679.09" r="2.75"/><circle cx="466.12" cy="679.15" r="2.75"/><circle cx="475.33" cy="679.21" r="2.75"/><circle cx="484.54" cy="679.25" r="2.75"/></g>
<polyline points="152.98,592.05 162.19,589.4 171.4,512.11 180.61,588.73 189.82,592.72 199.03,592.72 208.24,591.06 217.45,589.73 226.66,588.73 235.87,588.07 245.08,587.41 254.29,587.06 263.5,586.91 272.71,586.93 281.92,586.99 291.13,587.08 300.34,587.34 309.55,587.79 318.76,588.24 327.97,588.59 337.18,588.93 346.39,589.3 355.6,589.73 364.81,590.32 374.02,591.03 383.23,591.72 392.44,592.32 401.65,592.91 410.86,593.54 420.07,594.26 429.28,595.03 438.49,595.87 447.7,596.8 456.91,597.81 466.12,598.85 475.33,599.91 484.54,601.01 493.75,636.05" fill="none" stroke="#808000" stroke-width="1.15" stroke-linejoin="round" clip-path="url(#cb)"/>
<polyline points="125.35,655.24 134.56,653.58 143.77,652.75 152.98,652.59 162.19,656.57 171.4,735.35 180.61,648.77 189.82,652.59 199.03,653.58 208.24,654.74 217.45,655.24 226.66,656.24 235.87,656.59 245.08,656.85 254.29,657.01 263.5,657.07 272.71,657.07 281.92,657.07 291.13,657.07 300.34,657.07 309.55,657.07 318.76,656.91 327.97,656.51 337.18,655.95 346.39,655.33 355.6,654.74 364.81,654.16 374.02,653.53 383.23,652.85 392.44,652.15 401.65,651.43 410.86,650.68 420.07,649.9 429.28,649.1 438.49,648.28 447.7,647.45 456.91,646.59 466.12,645.71 475.33,644.83 484.54,643.96 493.75,643.13" fill="none" stroke="#808000" stroke-width="1.15" stroke-linejoin="round" clip-path="url(#cb)"/>
<g fill="#808000"><circle cx="152.98" cy="592.05" r="2.75"/><circle cx="162.19" cy="589.4" r="2.75"/><circle cx="171.4" cy="512.11" r="2.75"/><circle cx="180.61" cy="588.73" r="2.75"/><circle cx="189.82" cy="592.72" r="2.75"/><circle cx="199.03" cy="592.72" r="2.75"/><circle cx="208.24" cy="591.06" r="2.75"/><circle cx="217.45" cy="589.73" r="2.75"/><circle cx="226.66" cy="588.73" r="2.75"/><circle cx="235.87" cy="588.07" r="2.75"/><circle cx="245.08" cy="587.41" r="2.75"/><circle cx="254.29" cy="587.06" r="2.75"/><circle cx="263.5" cy="586.91" r="2.75"/><circle cx="272.71" cy="586.93" r="2.75"/><circle cx="281.92" cy="586.99" r="2.75"/><circle cx="291.13" cy="587.08" r="2.75"/><circle cx="300.34" cy="587.34" r="2.75"/><circle cx="309.55" cy="587.79" r="2.75"/><circle cx="318.76" cy="588.24" r="2.75"/><circle cx="327.97" cy="588.59" r="2.75"/><circle cx="337.18" cy="588.93" r="2.75"/><circle cx="346.39" cy="589.3" r="2.75"/><circle cx="355.6" cy="589.73" r="2.75"/><circle cx="364.81" cy="590.32" r="2.75"/><circle cx="374.02" cy="591.03" r="2.75"/><circle cx="383.23" cy="591.72" r="2.75"/><circle cx="392.44" cy="592.32" r="2.75"/><circle cx="401.65" cy="592.91" r="2.75"/><circle cx="410.86" cy="593.54" r="2.75"/><circle cx="420.07" cy="594.26" r="2.75"/><circle cx="429.28" cy="595.03" r="2.75"/><circle cx="438.49" cy="595.87" r="2.75"/><circle cx="447.7" cy="596.8" r="2.75"/><circle cx="456.91" cy="597.81" r="2.75"/><circle cx="466.12" cy="598.85" r="2.75"/><circle cx="475.33" cy="599.91" r="2.75"/><circle cx="484.54" cy="601.01" r="2.75"/></g>
<g fill="#808000"><circle cx="134.56" cy="653.58" r="2.75"/><circle cx="143.77" cy="652.75" r="2.75"/><circle cx="152.98" cy="652.59" r="2.75"/><circle cx="162.19" cy="656.57" r="2.75"/><circle cx="171.4" cy="735.35" r="2.75"/><circle cx="180.61" cy="648.77" r="2.75"/><circle cx="189.82" cy="652.59" r="2.75"/><circle cx="199.03" cy="653.58" r="2.75"/><circle cx="208.24" cy="654.74" r="2.75"/><circle cx="217.45" cy="655.24" r="2.75"/><circle cx="226.66" cy="656.24" r="2.75"/><circle cx="235.87" cy="656.59" r="2.75"/><circle cx="245.08" cy="656.85" r="2.75"/><circle cx="254.29" cy="657.01" r="2.75"/><circle cx="263.5" cy="657.07" r="2.75"/><circle cx="272.71" cy="657.07" r="2.75"/><circle cx="281.92" cy="657.07" r="2.75"/><circle cx="291.13" cy="657.07" r="2.75"/><circle cx="300.34" cy="657.07" r="2.75"/><circle cx="309.55" cy="657.07" r="2.75"/><circle cx="318.76" cy="656.91" r="2.75"/><circle cx="327.97" cy="656.51" r="2.75"/><circle cx="337.18" cy="655.95" r="2.75"/><circle cx="346.39" cy="655.33" r="2.75"/><circle cx="355.6" cy="654.74" r="2.75"/><circle cx="364.81" cy="654.16" r="2.75"/><circle cx="374.02" cy="653.53" r="2.75"/><circle cx="383.23" cy="652.85" r="2.75"/><circle cx="392.44" cy="652.15" r="2.75"/><circle cx="401.65" cy="651.43" r="2.75"/><circle cx="410.86" cy="650.68" r="2.75"/><circle cx="420.07" cy="649.9" r="2.75"/><circle cx="429.28" cy="649.1" r="2.75"/><circle cx="438.49" cy="648.28" r="2.75"/><circle cx="447.7" cy="647.45" r="2.75"/><circle cx="456.91" cy="646.59" r="2.75"/><circle cx="466.12" cy="645.71" r="2.75"/><circle cx="475.33" cy="644.83" r="2.75"/><circle cx="484.54" cy="643.96" r="2.75"/></g>
<polyline points="152.98,603.16 162.19,603.16 171.4,552.75 180.61,604.16 189.82,603.66 199.03,602 208.24,600.68 217.45,600.01 226.66,600.01 235.87,600.68 245.08,601.17 254.29,602 263.5,603 272.71,604.16 281.92,605.15 291.13,606.15 300.34,606.48 309.55,606.81 318.76,607.33 327.97,607.97 337.18,608.64 346.39,609.27 355.6,609.96 364.81,610.85 374.02,611.85 383.23,612.78 392.44,613.57 401.65,614.31 410.86,615.11 420.07,616.02 429.28,616.99 438.49,617.92 447.7,618.77 456.91,619.58 466.12,620.41 475.33,621.31 484.54,622.24 493.75,622.04" fill="none" stroke="#ff80ff" stroke-width="1.15" stroke-linejoin="round" clip-path="url(#cb)"/>
<polyline points="125.35,645.46 134.56,643.63 143.77,642.8 152.98,641.64 162.19,641.14 171.4,691.89 180.61,641.64 189.82,642.14 199.03,643.13 208.24,644.29 217.45,644.96 226.66,645.46 235.87,644.96 245.08,644.55 254.29,644.18 263.5,643.8 272.71,643.45 281.92,643.09 291.13,642.47 300.34,640.31 309.55,639.01 318.76,638.01 327.97,637.12 337.18,636.17 346.39,635.12 355.6,634.06 364.81,633.02 374.02,632.02 383.23,631.07 392.44,630.15 401.65,629.25 410.86,628.37 420.07,627.51 429.28,626.66 438.49,625.84 447.7,625.06 456.91,624.31 466.12,623.61 475.33,622.92 484.54,622.24 493.75,621.57" fill="none" stroke="#ff80ff" stroke-width="1.15" stroke-linejoin="round" clip-path="url(#cb)"/>
<g fill="#ff80ff"><circle cx="152.98" cy="603.16" r="2.75"/><circle cx="162.19" cy="603.16" r="2.75"/><circle cx="171.4" cy="552.75" r="2.75"/><circle cx="180.61" cy="604.16" r="2.75"/><circle cx="189.82" cy="603.66" r="2.75"/><circle cx="199.03" cy="602" r="2.75"/><circle cx="208.24" cy="600.68" r="2.75"/><circle cx="217.45" cy="600.01" r="2.75"/><circle cx="226.66" cy="600.01" r="2.75"/><circle cx="235.87" cy="600.68" r="2.75"/><circle cx="245.08" cy="601.17" r="2.75"/><circle cx="254.29" cy="602" r="2.75"/><circle cx="263.5" cy="603" r="2.75"/><circle cx="272.71" cy="604.16" r="2.75"/><circle cx="281.92" cy="605.15" r="2.75"/><circle cx="291.13" cy="606.15" r="2.75"/><circle cx="300.34" cy="606.48" r="2.75"/><circle cx="309.55" cy="606.81" r="2.75"/><circle cx="318.76" cy="607.33" r="2.75"/><circle cx="327.97" cy="607.97" r="2.75"/><circle cx="337.18" cy="608.64" r="2.75"/><circle cx="346.39" cy="609.27" r="2.75"/><circle cx="355.6" cy="609.96" r="2.75"/><circle cx="364.81" cy="610.85" r="2.75"/><circle cx="374.02" cy="611.85" r="2.75"/><circle cx="383.23" cy="612.78" r="2.75"/><circle cx="392.44" cy="613.57" r="2.75"/><circle cx="401.65" cy="614.31" r="2.75"/><circle cx="410.86" cy="615.11" r="2.75"/><circle cx="420.07" cy="616.02" r="2.75"/><circle cx="429.28" cy="616.99" r="2.75"/><circle cx="438.49" cy="617.92" r="2.75"/><circle cx="447.7" cy="618.77" r="2.75"/><circle cx="456.91" cy="619.58" r="2.75"/><circle cx="466.12" cy="620.41" r="2.75"/><circle cx="475.33" cy="621.31" r="2.75"/><circle cx="484.54" cy="622.24" r="2.75"/></g>
<g fill="#ff80ff"><circle cx="134.56" cy="643.63" r="2.75"/><circle cx="143.77" cy="642.8" r="2.75"/><circle cx="152.98" cy="641.64" r="2.75"/><circle cx="162.19" cy="641.14" r="2.75"/><circle cx="171.4" cy="691.89" r="2.75"/><circle cx="180.61" cy="641.64" r="2.75"/><circle cx="189.82" cy="642.14" r="2.75"/><circle cx="199.03" cy="643.13" r="2.75"/><circle cx="208.24" cy="644.29" r="2.75"/><circle cx="217.45" cy="644.96" r="2.75"/><circle cx="226.66" cy="645.46" r="2.75"/><circle cx="235.87" cy="644.96" r="2.75"/><circle cx="245.08" cy="644.55" r="2.75"/><circle cx="254.29" cy="644.18" r="2.75"/><circle cx="263.5" cy="643.8" r="2.75"/><circle cx="272.71" cy="643.45" r="2.75"/><circle cx="281.92" cy="643.09" r="2.75"/><circle cx="291.13" cy="642.47" r="2.75"/><circle cx="300.34" cy="640.31" r="2.75"/><circle cx="309.55" cy="639.01" r="2.75"/><circle cx="318.76" cy="638.01" r="2.75"/><circle cx="327.97" cy="637.12" r="2.75"/><circle cx="337.18" cy="636.17" r="2.75"/><circle cx="346.39" cy="635.12" r="2.75"/><circle cx="355.6" cy="634.06" r="2.75"/><circle cx="364.81" cy="633.02" r="2.75"/><circle cx="374.02" cy="632.02" r="2.75"/><circle cx="383.23" cy="631.07" r="2.75"/><circle cx="392.44" cy="630.15" r="2.75"/><circle cx="401.65" cy="629.25" r="2.75"/><circle cx="410.86" cy="628.37" r="2.75"/><circle cx="420.07" cy="627.51" r="2.75"/><circle cx="429.28" cy="626.66" r="2.75"/><circle cx="438.49" cy="625.84" r="2.75"/><circle cx="447.7" cy="625.06" r="2.75"/><circle cx="456.91" cy="624.31" r="2.75"/><circle cx="466.12" cy="623.61" r="2.75"/><circle cx="475.33" cy="622.92" r="2.75"/><circle cx="484.54" cy="622.24" r="2.75"/></g>
<text x="172.1" y="815.2" font-size="23.5" text-anchor="middle" stroke="#000" stroke-width="0.45">0</text>
<text x="263.7" y="815.2" font-size="23.5" text-anchor="middle" stroke="#000" stroke-width="0.45">2</text>
<text x="355.3" y="815.2" font-size="23.5" text-anchor="middle" stroke="#000" stroke-width="0.45">4</text>
<text x="446.9" y="815.2" font-size="23.5" text-anchor="middle" stroke="#000" stroke-width="0.45">6</text>
<text x="119.7" y="464.05" font-size="23.5" text-anchor="end" stroke="#000" stroke-width="0.45">1000</text>
<text x="119.7" y="629.9" font-size="23.5" text-anchor="end" stroke="#000" stroke-width="0.45">0</text>
<text x="119.7" y="795.75" font-size="23.5" text-anchor="end" stroke="#000" stroke-width="0.45">-1000</text>
<text x="309.4" y="846.5" font-size="28.6" text-anchor="middle" stroke="#000" stroke-width="0.45"><tspan font-style="italic" font-size="24.6">μ</tspan><tspan font-style="italic" font-size="20.31" dy="6">0</tspan><tspan font-style="italic" dy="-6">H</tspan> (T)</text>
<text transform="translate(52,622.3) rotate(-90)" x="0" y="0" font-size="28.5" text-anchor="middle" stroke="#000" stroke-width="0.45"><tspan font-style="italic">M</tspan> (emu/cm<tspan font-size="20.52" dy="-14">3</tspan><tspan dy="14">)</tspan></text>
<text x="342.6" y="498.7" font-size="23.5" fill="#000000" stroke="#000000" stroke-width="0.45">3 K</text>
<text x="410.5" y="498.7" font-size="23.5" fill="#0080ff" stroke="#0080ff" stroke-width="0.45">20 K</text>
<text x="410.5" y="537.4" font-size="23.5" fill="#00ff00" stroke="#00ff00" stroke-width="0.45">25 K</text>
<text x="411.3" y="727.7" font-size="23.5" fill="#808000" stroke="#808000" stroke-width="0.45">30 K</text>
<text x="411.3" y="768.6" font-size="23.5" fill="#ff80ff" stroke="#ff80ff" stroke-width="0.45">32 K</text>
<text x="-2" y="479" font-size="45" font-weight="bold" stroke="#000" stroke-width="0">b</text>
<clipPath id="cc"><rect x="641" y="9.6" width="368.9" height="334.1"/></clipPath>
<rect x="641" y="9.6" width="368.9" height="334.1" fill="none" stroke="#000" stroke-width="1.4"/>
<path d="M754.5,343.7v-10M754.5,9.6v10M868,343.7v-10M868,9.6v10M981.5,343.7v-10M981.5,9.6v10" stroke="#000" stroke-width="1.4" fill="none"/>
<path d="M697.75,343.7v-5M697.75,9.6v5M811.25,343.7v-5M811.25,9.6v5M924.75,343.7v-5M924.75,9.6v5" stroke="#000" stroke-width="1.4" fill="none"/>
<path d="M641,198.6h10M1009.9,198.6h-10M641,53.5h10M1009.9,53.5h-10M641,242.28h10M1009.9,242.28h-10M641,97.18h10M1009.9,97.18h-10" stroke="#000" stroke-width="1.4" fill="none"/>
<path d="M641,300.02h5M1009.9,300.02h-5M641,274.47h5M1009.9,274.47h-5M641,256.34h5M1009.9,256.34h-5M641,230.79h5M1009.9,230.79h-5M641,221.08h5M1009.9,221.08h-5M641,212.66h5M1009.9,212.66h-5M641,205.24h5M1009.9,205.24h-5M641,154.92h5M1009.9,154.92h-5M641,129.37h5M1009.9,129.37h-5M641,111.24h5M1009.9,111.24h-5M641,85.69h5M1009.9,85.69h-5M641,75.98h5M1009.9,75.98h-5M641,67.56h5M1009.9,67.56h-5M641,60.14h5M1009.9,60.14h-5" stroke="#000" stroke-width="1.4" fill="none"/>
<polyline points="640.2,31.5 651.62,41.3 663.04,61.8 674.46,78.6 685.88,90.7 697.3,101.2 708.72,110 720.14,117.9 731.56,124 742.98,129.8 754.4,135.5 765.82,140.9 777.24,145.1 788.66,149.1 800.08,152.8 811.5,156.6 822.92,160.5 834.34,163.3 845.76,166 857.18,168.93 868.6,171.92 880.02,174.6 891.44,176.85 902.86,178.8 914.28,180.45 925.7,181.9 937.12,183.26 948.54,184.5 959.96,185.5 971.38,186.15 982.8,186.8 994.22,187.77 1005.64,189" fill="none" stroke="#000000" stroke-width="1.2" stroke-linejoin="round" clip-path="url(#cc)"/>
<g fill="#000000"><circle cx="640.2" cy="31.5" r="3.15"/><circle cx="651.62" cy="41.3" r="3.15"/><circle cx="663.04" cy="61.8" r="3.15"/><circle cx="674.46" cy="78.6" r="3.15"/><circle cx="685.88" cy="90.7" r="3.15"/><circle cx="697.3" cy="101.2" r="3.15"/><circle cx="708.72" cy="110" r="3.15"/><circle cx="720.14" cy="117.9" r="3.15"/><circle cx="731.56" cy="124" r="3.15"/><circle cx="742.98" cy="129.8" r="3.15"/><circle cx="754.4" cy="135.5" r="3.15"/><circle cx="765.82" cy="140.9" r="3.15"/><circle cx="777.24" cy="145.1" r="3.15"/><circle cx="788.66" cy="149.1" r="3.15"/><circle cx="800.08" cy="152.8" r="3.15"/><circle cx="811.5" cy="156.6" r="3.15"/><circle cx="822.92" cy="160.5" r="3.15"/><circle cx="834.34" cy="163.3" r="3.15"/><circle cx="845.76" cy="166" r="3.15"/><circle cx="857.18" cy="168.93" r="3.15"/><circle cx="868.6" cy="171.92" r="3.15"/><circle cx="880.02" cy="174.6" r="3.15"/><circle cx="891.44" cy="176.85" r="3.15"/><circle cx="902.86" cy="178.8" r="3.15"/><circle cx="914.28" cy="180.45" r="3.15"/><circle cx="925.7" cy="181.9" r="3.15"/><circle cx="937.12" cy="183.26" r="3.15"/><circle cx="948.54" cy="184.5" r="3.15"/><circle cx="959.96" cy="185.5" r="3.15"/><circle cx="971.38" cy="186.15" r="3.15"/><circle cx="982.8" cy="186.8" r="3.15"/><circle cx="994.22" cy="187.77" r="3.15"/><circle cx="1005.64" cy="189" r="3.15"/></g>
<polyline points="640.2,43.4 651.62,57.7 663.04,82.1 674.46,100.5 685.88,113.1 697.3,123.1 708.72,132.3 720.14,139.9 731.56,146.2 742.98,151.8 754.4,157 765.82,161.8 777.24,165.8 788.66,170.6 800.08,175.2 811.5,178.5 822.92,181 834.34,183 845.76,185.8 857.18,187.9 868.6,190 880.02,191.85 891.44,193.5 902.86,194.94 914.28,196.2 925.7,197.39 937.12,198.3 948.54,198.86 959.96,199.2 971.38,199.4 982.8,199.55 994.22,199.66 1005.64,199.7" fill="none" stroke="#0000ff" stroke-width="1.2" stroke-linejoin="round" clip-path="url(#cc)"/>
<g fill="#0000ff"><circle cx="640.2" cy="43.4" r="3.15"/><circle cx="651.62" cy="57.7" r="3.15"/><circle cx="663.04" cy="82.1" r="3.15"/><circle cx="674.46" cy="100.5" r="3.15"/><circle cx="685.88" cy="113.1" r="3.15"/><circle cx="697.3" cy="123.1" r="3.15"/><circle cx="708.72" cy="132.3" r="3.15"/><circle cx="720.14" cy="139.9" r="3.15"/><circle cx="731.56" cy="146.2" r="3.15"/><circle cx="742.98" cy="151.8" r="3.15"/><circle cx="754.4" cy="157" r="3.15"/><circle cx="765.82" cy="161.8" r="3.15"/><circle cx="777.24" cy="165.8" r="3.15"/><circle cx="788.66" cy="170.6" r="3.15"/><circle cx="800.08" cy="175.2" r="3.15"/><circle cx="811.5" cy="178.5" r="3.15"/><circle cx="822.92" cy="181" r="3.15"/><circle cx="834.34" cy="183" r="3.15"/><circle cx="845.76" cy="185.8" r="3.15"/><circle cx="857.18" cy="187.9" r="3.15"/><circle cx="868.6" cy="190" r="3.15"/><circle cx="880.02" cy="191.85" r="3.15"/><circle cx="891.44" cy="193.5" r="3.15"/><circle cx="902.86" cy="194.94" r="3.15"/><circle cx="914.28" cy="196.2" r="3.15"/><circle cx="925.7" cy="197.39" r="3.15"/><circle cx="937.12" cy="198.3" r="3.15"/><circle cx="948.54" cy="198.86" r="3.15"/><circle cx="959.96" cy="199.2" r="3.15"/><circle cx="971.38" cy="199.4" r="3.15"/><circle cx="982.8" cy="199.55" r="3.15"/><circle cx="994.22" cy="199.66" r="3.15"/><circle cx="1005.64" cy="199.7" r="3.15"/></g>
<polyline points="640.2,51.8 651.62,70.6 663.04,98.5 674.46,115.8 685.88,128.8 697.3,139.9 708.72,148 720.14,156.6 731.56,162.9 742.98,167.5 754.4,171.7 765.82,174.8 777.24,178.6 788.66,183 800.08,186.5 811.5,190 822.92,192.5 834.34,194.4 845.76,196.9 857.18,199 868.6,201.1 880.02,202.15 891.44,203.2 902.86,205.3 914.28,205.43 925.7,205.5 937.12,205.61 948.54,205.73 959.96,205.85 971.38,205.98 982.8,206.11 994.22,206.25 1005.64,206.4" fill="none" stroke="#008000" stroke-width="1.2" stroke-linejoin="round" clip-path="url(#cc)"/>
<g fill="#008000"><circle cx="640.2" cy="51.8" r="3.15"/><circle cx="651.62" cy="70.6" r="3.15"/><circle cx="663.04" cy="98.5" r="3.15"/><circle cx="674.46" cy="115.8" r="3.15"/><circle cx="685.88" cy="128.8" r="3.15"/><circle cx="697.3" cy="139.9" r="3.15"/><circle cx="708.72" cy="148" r="3.15"/><circle cx="720.14" cy="156.6" r="3.15"/><circle cx="731.56" cy="162.9" r="3.15"/><circle cx="742.98" cy="167.5" r="3.15"/><circle cx="754.4" cy="171.7" r="3.15"/><circle cx="765.82" cy="174.8" r="3.15"/><circle cx="777.24" cy="178.6" r="3.15"/><circle cx="788.66" cy="183" r="3.15"/><circle cx="800.08" cy="186.5" r="3.15"/><circle cx="811.5" cy="190" r="3.15"/><circle cx="822.92" cy="192.5" r="3.15"/><circle cx="834.34" cy="194.4" r="3.15"/><circle cx="845.76" cy="196.9" r="3.15"/><circle cx="857.18" cy="199" r="3.15"/><circle cx="868.6" cy="201.1" r="3.15"/><circle cx="880.02" cy="202.15" r="3.15"/><circle cx="891.44" cy="203.2" r="3.15"/><circle cx="902.86" cy="205.3" r="3.15"/><circle cx="914.28" cy="205.43" r="3.15"/><circle cx="925.7" cy="205.5" r="3.15"/><circle cx="937.12" cy="205.61" r="3.15"/><circle cx="948.54" cy="205.73" r="3.15"/><circle cx="959.96" cy="205.85" r="3.15"/><circle cx="971.38" cy="205.98" r="3.15"/><circle cx="982.8" cy="206.11" r="3.15"/><circle cx="994.22" cy="206.25" r="3.15"/><circle cx="1005.64" cy="206.4" r="3.15"/></g>
<polyline points="640.2,58.7 651.62,85.3 663.04,114.6 674.46,132.3 685.88,146.6 697.3,156 708.72,163.3 720.14,170.6 731.56,176.9 742.98,181.5 754.4,184.9 765.82,186.9 777.24,188.76 788.66,190.5 800.08,192.03 811.5,193.6 822.92,195.5 834.34,196.73 845.76,197.6 857.18,198.17 868.6,198.6 880.02,198.99 891.44,199.3 902.86,199.52 914.28,199.69 925.7,199.84 937.12,200 948.54,200.16 959.96,200.32 971.38,200.47 982.8,200.62 994.22,200.76 1005.64,200.9" fill="none" stroke="#ff8000" stroke-width="1.2" stroke-linejoin="round" clip-path="url(#cc)"/>
<g fill="#ff8000"><circle cx="640.2" cy="58.7" r="3.15"/><circle cx="651.62" cy="85.3" r="3.15"/><circle cx="663.04" cy="114.6" r="3.15"/><circle cx="674.46" cy="132.3" r="3.15"/><circle cx="685.88" cy="146.6" r="3.15"/><circle cx="697.3" cy="156" r="3.15"/><circle cx="708.72" cy="163.3" r="3.15"/><circle cx="720.14" cy="170.6" r="3.15"/><circle cx="731.56" cy="176.9" r="3.15"/><circle cx="742.98" cy="181.5" r="3.15"/><circle cx="754.4" cy="184.9" r="3.15"/><circle cx="765.82" cy="186.9" r="3.15"/><circle cx="777.24" cy="188.76" r="3.15"/><circle cx="788.66" cy="190.5" r="3.15"/><circle cx="800.08" cy="192.03" r="3.15"/><circle cx="811.5" cy="193.6" r="3.15"/><circle cx="822.92" cy="195.5" r="3.15"/><circle cx="834.34" cy="196.73" r="3.15"/><circle cx="845.76" cy="197.6" r="3.15"/><circle cx="857.18" cy="198.17" r="3.15"/><circle cx="868.6" cy="198.6" r="3.15"/><circle cx="880.02" cy="198.99" r="3.15"/><circle cx="891.44" cy="199.3" r="3.15"/><circle cx="902.86" cy="199.52" r="3.15"/><circle cx="914.28" cy="199.69" r="3.15"/><circle cx="925.7" cy="199.84" r="3.15"/><circle cx="937.12" cy="200" r="3.15"/><circle cx="948.54" cy="200.16" r="3.15"/><circle cx="959.96" cy="200.32" r="3.15"/><circle cx="971.38" cy="200.47" r="3.15"/><circle cx="982.8" cy="200.62" r="3.15"/><circle cx="994.22" cy="200.76" r="3.15"/><circle cx="1005.64" cy="200.9" r="3.15"/></g>
<polyline points="640.2,67.7 651.62,102.2 663.04,131.5 674.46,148 685.88,159.1 697.3,166.4 708.72,172.1 720.14,174.4 731.56,175.2 742.98,175.38 754.4,175.5 765.82,175.69 777.24,175.91 788.66,176.15 800.08,176.37 811.5,176.56 822.92,176.7 834.34,176.8 845.76,176.9 857.18,177 868.6,177.09 880.02,177.18 891.44,177.26 902.86,177.34 914.28,177.41 925.7,177.47 937.12,177.53 948.54,177.58 959.96,177.62 971.38,177.65 982.8,177.68 994.22,177.69 1005.64,177.7" fill="none" stroke="#ff0000" stroke-width="1.2" stroke-linejoin="round" clip-path="url(#cc)"/>
<g fill="#ff0000"><circle cx="640.2" cy="67.7" r="3.15"/><circle cx="651.62" cy="102.2" r="3.15"/><circle cx="663.04" cy="131.5" r="3.15"/><circle cx="674.46" cy="148" r="3.15"/><circle cx="685.88" cy="159.1" r="3.15"/><circle cx="697.3" cy="166.4" r="3.15"/><circle cx="708.72" cy="172.1" r="3.15"/><circle cx="720.14" cy="174.4" r="3.15"/><circle cx="731.56" cy="175.2" r="3.15"/><circle cx="742.98" cy="175.38" r="3.15"/><circle cx="754.4" cy="175.5" r="3.15"/><circle cx="765.82" cy="175.69" r="3.15"/><circle cx="777.24" cy="175.91" r="3.15"/><circle cx="788.66" cy="176.15" r="3.15"/><circle cx="800.08" cy="176.37" r="3.15"/><circle cx="811.5" cy="176.56" r="3.15"/><circle cx="822.92" cy="176.7" r="3.15"/><circle cx="834.34" cy="176.8" r="3.15"/><circle cx="845.76" cy="176.9" r="3.15"/><circle cx="857.18" cy="177" r="3.15"/><circle cx="868.6" cy="177.09" r="3.15"/><circle cx="880.02" cy="177.18" r="3.15"/><circle cx="891.44" cy="177.26" r="3.15"/><circle cx="902.86" cy="177.34" r="3.15"/><circle cx="914.28" cy="177.41" r="3.15"/><circle cx="925.7" cy="177.47" r="3.15"/><circle cx="937.12" cy="177.53" r="3.15"/><circle cx="948.54" cy="177.58" r="3.15"/><circle cx="959.96" cy="177.62" r="3.15"/><circle cx="971.38" cy="177.65" r="3.15"/><circle cx="982.8" cy="177.68" r="3.15"/><circle cx="994.22" cy="177.69" r="3.15"/><circle cx="1005.64" cy="177.7" r="3.15"/></g>
<polyline points="640.2,77.5 651.62,121 663.04,149.1 674.46,162.3 685.88,167.5 697.3,169.6 708.72,170.2 720.14,170.25 731.56,170.28 742.98,170.3 754.4,170.3 765.82,170.28 777.24,170.24 788.66,170.16 800.08,170.06 811.5,169.94 822.92,169.8 834.34,169.52 845.76,169.1 857.18,168.47 868.6,168 880.02,167.89 891.44,167.8 902.86,167.71 914.28,167.64 925.7,167.58 937.12,167.53 948.54,167.49 959.96,167.45 971.38,167.43 982.8,167.41 994.22,167.4 1005.64,167.4" fill="none" stroke="#0080ff" stroke-width="1.2" stroke-linejoin="round" clip-path="url(#cc)"/>
<g fill="#0080ff"><circle cx="640.2" cy="77.5" r="3.15"/><circle cx="651.62" cy="121" r="3.15"/><circle cx="663.04" cy="149.1" r="3.15"/><circle cx="674.46" cy="162.3" r="3.15"/><circle cx="685.88" cy="167.5" r="3.15"/><circle cx="697.3" cy="169.6" r="3.15"/><circle cx="708.72" cy="170.2" r="3.15"/><circle cx="720.14" cy="170.25" r="3.15"/><circle cx="731.56" cy="170.28" r="3.15"/><circle cx="742.98" cy="170.3" r="3.15"/><circle cx="754.4" cy="170.3" r="3.15"/><circle cx="765.82" cy="170.28" r="3.15"/><circle cx="777.24" cy="170.24" r="3.15"/><circle cx="788.66" cy="170.16" r="3.15"/><circle cx="800.08" cy="170.06" r="3.15"/><circle cx="811.5" cy="169.94" r="3.15"/><circle cx="822.92" cy="169.8" r="3.15"/><circle cx="834.34" cy="169.52" r="3.15"/><circle cx="845.76" cy="169.1" r="3.15"/><circle cx="857.18" cy="168.47" r="3.15"/><circle cx="868.6" cy="168" r="3.15"/><circle cx="880.02" cy="167.89" r="3.15"/><circle cx="891.44" cy="167.8" r="3.15"/><circle cx="902.86" cy="167.71" r="3.15"/><circle cx="914.28" cy="167.64" r="3.15"/><circle cx="925.7" cy="167.58" r="3.15"/><circle cx="937.12" cy="167.53" r="3.15"/><circle cx="948.54" cy="167.49" r="3.15"/><circle cx="959.96" cy="167.45" r="3.15"/><circle cx="971.38" cy="167.43" r="3.15"/><circle cx="982.8" cy="167.41" r="3.15"/><circle cx="994.22" cy="167.4" r="3.15"/><circle cx="1005.64" cy="167.4" r="3.15"/></g>
<polyline points="640.2,97 651.62,152.4 663.04,173.8 674.46,179 685.88,181.1 697.3,182.1 708.72,181.7 720.14,181.7 731.56,181.1 742.98,181.1 754.4,180.7 765.82,180 777.24,179.4 788.66,178.6 800.08,177.3 811.5,176.5 822.92,175.9 834.34,175.3 845.76,175.25 857.18,175.22 868.6,175.2 880.02,175.17 891.44,175.14 902.86,175.11 914.28,175.09 925.7,175.06 937.12,175.03 948.54,175.01 959.96,174.98 971.38,174.96 982.8,174.94 994.22,174.92 1005.64,174.9" fill="none" stroke="#00ff00" stroke-width="1.2" stroke-linejoin="round" clip-path="url(#cc)"/>
<g fill="#00ff00"><circle cx="640.2" cy="97" r="3.15"/><circle cx="651.62" cy="152.4" r="3.15"/><circle cx="663.04" cy="173.8" r="3.15"/><circle cx="674.46" cy="179" r="3.15"/><circle cx="685.88" cy="181.1" r="3.15"/><circle cx="697.3" cy="182.1" r="3.15"/><circle cx="708.72" cy="181.7" r="3.15"/><circle cx="720.14" cy="181.7" r="3.15"/><circle cx="731.56" cy="181.1" r="3.15"/><circle cx="742.98" cy="181.1" r="3.15"/><circle cx="754.4" cy="180.7" r="3.15"/><circle cx="765.82" cy="180" r="3.15"/><circle cx="777.24" cy="179.4" r="3.15"/><circle cx="788.66" cy="178.6" r="3.15"/><circle cx="800.08" cy="177.3" r="3.15"/><circle cx="811.5" cy="176.5" r="3.15"/><circle cx="822.92" cy="175.9" r="3.15"/><circle cx="834.34" cy="175.3" r="3.15"/><circle cx="845.76" cy="175.25" r="3.15"/><circle cx="857.18" cy="175.22" r="3.15"/><circle cx="868.6" cy="175.2" r="3.15"/><circle cx="880.02" cy="175.17" r="3.15"/><circle cx="891.44" cy="175.14" r="3.15"/><circle cx="902.86" cy="175.11" r="3.15"/><circle cx="914.28" cy="175.09" r="3.15"/><circle cx="925.7" cy="175.06" r="3.15"/><circle cx="937.12" cy="175.03" r="3.15"/><circle cx="948.54" cy="175.01" r="3.15"/><circle cx="959.96" cy="174.98" r="3.15"/><circle cx="971.38" cy="174.96" r="3.15"/><circle cx="982.8" cy="174.94" r="3.15"/><circle cx="994.22" cy="174.92" r="3.15"/><circle cx="1005.64" cy="174.9" r="3.15"/></g>
<polyline points="640.2,133 651.62,216.2 663.04,216.8 674.46,214.8 685.88,213 697.3,211 708.72,209.6 720.14,208.3 731.56,207.1 742.98,206.3 754.4,205.7 765.82,205.3 777.24,205.3 788.66,205.7 800.08,206.3 811.5,206.7 822.92,207.2 834.34,207.4 845.76,208.8 857.18,209.8 868.6,210.9 880.02,212.6 891.44,213.4 902.86,215.1 914.28,216.8 925.7,218.6 937.12,220.4 948.54,222.1 959.96,224.1 971.38,226.2 982.8,228.7 994.22,230.7 1005.64,232.9" fill="none" stroke="#804000" stroke-width="1.2" stroke-linejoin="round" clip-path="url(#cc)"/>
<g fill="#804000"><circle cx="640.2" cy="133" r="3.15"/><circle cx="651.62" cy="216.2" r="3.15"/><circle cx="663.04" cy="216.8" r="3.15"/><circle cx="674.46" cy="214.8" r="3.15"/><circle cx="685.88" cy="213" r="3.15"/><circle cx="697.3" cy="211" r="3.15"/><circle cx="708.72" cy="209.6" r="3.15"/><circle cx="720.14" cy="208.3" r="3.15"/><circle cx="731.56" cy="207.1" r="3.15"/><circle cx="742.98" cy="206.3" r="3.15"/><circle cx="754.4" cy="205.7" r="3.15"/><circle cx="765.82" cy="205.3" r="3.15"/><circle cx="777.24" cy="205.3" r="3.15"/><circle cx="788.66" cy="205.7" r="3.15"/><circle cx="800.08" cy="206.3" r="3.15"/><circle cx="811.5" cy="206.7" r="3.15"/><circle cx="822.92" cy="207.2" r="3.15"/><circle cx="834.34" cy="207.4" r="3.15"/><circle cx="845.76" cy="208.8" r="3.15"/><circle cx="857.18" cy="209.8" r="3.15"/><circle cx="868.6" cy="210.9" r="3.15"/><circle cx="880.02" cy="212.6" r="3.15"/><circle cx="891.44" cy="213.4" r="3.15"/><circle cx="902.86" cy="215.1" r="3.15"/><circle cx="914.28" cy="216.8" r="3.15"/><circle cx="925.7" cy="218.6" r="3.15"/><circle cx="937.12" cy="220.4" r="3.15"/><circle cx="948.54" cy="222.1" r="3.15"/><circle cx="959.96" cy="224.1" r="3.15"/><circle cx="971.38" cy="226.2" r="3.15"/><circle cx="982.8" cy="228.7" r="3.15"/><circle cx="994.22" cy="230.7" r="3.15"/><circle cx="1005.64" cy="232.9" r="3.15"/></g>
<polyline points="640.2,162.9 651.62,244.8 663.04,244.2 674.46,239.7 685.88,236.7 697.3,235.1 708.72,234 720.14,234.3 731.56,235.3 742.98,237.7 754.4,238.9 765.82,240.9 777.24,245.2 788.66,248.2 800.08,249.8 811.5,255.5 822.92,256.8 834.34,260.8 845.76,265.4 857.18,269.9 868.6,275.9 880.02,280.8 891.44,289.2 902.86,293 914.28,299.8 925.7,306.9 937.12,316.7 948.54,323.1 959.96,333.4 971.38,345.5" fill="none" stroke="#ff80ff" stroke-width="1.2" stroke-linejoin="round" clip-path="url(#cc)"/>
<g fill="#ff80ff"><circle cx="640.2" cy="162.9" r="3.15"/><circle cx="651.62" cy="244.8" r="3.15"/><circle cx="663.04" cy="244.2" r="3.15"/><circle cx="674.46" cy="239.7" r="3.15"/><circle cx="685.88" cy="236.7" r="3.15"/><circle cx="697.3" cy="235.1" r="3.15"/><circle cx="708.72" cy="234" r="3.15"/><circle cx="720.14" cy="234.3" r="3.15"/><circle cx="731.56" cy="235.3" r="3.15"/><circle cx="742.98" cy="237.7" r="3.15"/><circle cx="754.4" cy="238.9" r="3.15"/><circle cx="765.82" cy="240.9" r="3.15"/><circle cx="777.24" cy="245.2" r="3.15"/><circle cx="788.66" cy="248.2" r="3.15"/><circle cx="800.08" cy="249.8" r="3.15"/><circle cx="811.5" cy="255.5" r="3.15"/><circle cx="822.92" cy="256.8" r="3.15"/><circle cx="834.34" cy="260.8" r="3.15"/><circle cx="845.76" cy="265.4" r="3.15"/><circle cx="857.18" cy="269.9" r="3.15"/><circle cx="868.6" cy="275.9" r="3.15"/><circle cx="880.02" cy="280.8" r="3.15"/><circle cx="891.44" cy="289.2" r="3.15"/><circle cx="902.86" cy="293" r="3.15"/><circle cx="914.28" cy="299.8" r="3.15"/><circle cx="925.7" cy="306.9" r="3.15"/><circle cx="937.12" cy="316.7" r="3.15"/><circle cx="948.54" cy="323.1" r="3.15"/><circle cx="959.96" cy="333.4" r="3.15"/></g>
<polyline points="640.2,241.3 645.91,321.9 651.62,314 657.33,307 663.04,303.5 668.75,303 674.46,306.9 680.17,308 685.88,312.4 691.59,317.4 697.3,322.9 703.01,329.6 708.72,340.5 714.43,356" fill="none" stroke="#808080" stroke-width="1.2" stroke-linejoin="round" clip-path="url(#cc)"/>
<g fill="#808080"><circle cx="640.2" cy="241.3" r="3.15"/><circle cx="645.91" cy="321.9" r="3.15"/><circle cx="651.62" cy="314" r="3.15"/><circle cx="657.33" cy="307" r="3.15"/><circle cx="663.04" cy="303.5" r="3.15"/><circle cx="668.75" cy="303" r="3.15"/><circle cx="674.46" cy="306.9" r="3.15"/><circle cx="680.17" cy="308" r="3.15"/><circle cx="685.88" cy="312.4" r="3.15"/><circle cx="691.59" cy="317.4" r="3.15"/><circle cx="697.3" cy="322.9" r="3.15"/><circle cx="703.01" cy="329.6" r="3.15"/><circle cx="708.72" cy="340.5" r="3.15"/></g>
<text x="641" y="369" font-size="23.5" text-anchor="middle" stroke="#000" stroke-width="0.45">0</text>
<text x="754.5" y="369" font-size="23.5" text-anchor="middle" stroke="#000" stroke-width="0.45">2</text>
<text x="868" y="369" font-size="23.5" text-anchor="middle" stroke="#000" stroke-width="0.45">4</text>
<text x="981.5" y="369" font-size="23.5" text-anchor="middle" stroke="#000" stroke-width="0.45">6</text>
<text x="629.8" y="61" font-size="23.5" text-anchor="end" stroke="#000" stroke-width="0.45">10<tspan font-size="16.5" dy="-11">6</tspan></text>
<text x="629.8" y="206.1" font-size="23.5" text-anchor="end" stroke="#000" stroke-width="0.45">10<tspan font-size="16.5" dy="-11">5</tspan></text>
<text x="629.8" y="351.2" font-size="23.5" text-anchor="end" stroke="#000" stroke-width="0.45">10<tspan font-size="16.5" dy="-11">4</tspan></text>
<text x="825" y="400.4" font-size="28.7" text-anchor="middle" stroke="#000" stroke-width="0.45"><tspan font-style="italic" font-size="24.68">μ</tspan><tspan font-style="italic" font-size="20.38" dy="6">0</tspan><tspan font-style="italic" dy="-6">H</tspan> (T)</text>
<text transform="translate(583.4,176) rotate(-90)" x="0" y="0" font-size="28.8" text-anchor="middle" stroke="#000" stroke-width="0.45"><tspan font-style="italic">J</tspan><tspan font-size="19.87" dy="5">c</tspan><tspan dy="-5"> (A/cm</tspan><tspan font-size="20.74" dy="-14">2</tspan><tspan dy="14">)</tspan></text>
<text x="0" y="0" font-size="36.6" stroke="#000" stroke-width="0.45" transform="translate(828.6,72.6) scale(0.935,1)">CaK1144</text>
<text x="539.3" y="23.3" font-size="45" font-weight="bold" stroke="#000" stroke-width="0">c</text>
<clipPath id="cd"><rect x="638.6" y="454.9" width="369.5" height="335"/></clipPath>
<rect x="638.6" y="454.9" width="369.5" height="335" fill="none" stroke="#000" stroke-width="1.4"/>
<path d="M744.17,789.9v-10M744.17,454.9v10M849.94,789.9v-10M849.94,454.9v10M955.71,789.9v-10M955.71,454.9v10" stroke="#000" stroke-width="1.4" fill="none"/>
<path d="M691.28,789.9v-5M691.28,454.9v5M797.05,789.9v-5M797.05,454.9v5M902.83,789.9v-5M902.83,454.9v5" stroke="#000" stroke-width="1.4" fill="none"/>
<path d="M638.6,654.6h10M1008.1,654.6h-10M638.6,519.5h10M1008.1,519.5h-10" stroke="#000" stroke-width="1.4" fill="none"/>
<path d="M638.6,749.03h5M1008.1,749.03h-5M638.6,725.24h5M1008.1,725.24h-5M638.6,708.36h5M1008.1,708.36h-5M638.6,695.27h5M1008.1,695.27h-5M638.6,684.57h5M1008.1,684.57h-5M638.6,675.53h5M1008.1,675.53h-5M638.6,667.69h5M1008.1,667.69h-5M638.6,660.78h5M1008.1,660.78h-5M638.6,613.93h5M1008.1,613.93h-5M638.6,590.14h5M1008.1,590.14h-5M638.6,573.26h5M1008.1,573.26h-5M638.6,560.17h5M1008.1,560.17h-5M638.6,549.47h5M1008.1,549.47h-5M638.6,540.43h5M1008.1,540.43h-5M638.6,532.59h5M1008.1,532.59h-5M638.6,525.68h5M1008.1,525.68h-5M638.6,478.83h5M1008.1,478.83h-5" stroke="#000" stroke-width="1.4" fill="none"/>
<polyline points="670.13,527.9 691.28,546.5 712.44,561.6 744.17,576.7 754.75,580.7 765.32,584.2 775.9,587.2 786.48,590 797.05,593 807.63,595.8 818.21,598.8 828.79,603 839.36,607 849.94,608.8 860.52,613 881.67,622.3 902.83,630 934.56,651.2 955.71,672.5 966.29,683 976.86,697.5 987.44,717 998.02,752 1004.36,810" fill="none" stroke="#000000" stroke-width="1.3" stroke-linejoin="round" clip-path="url(#cd)"/>
<g fill="#000000"><circle cx="670.13" cy="527.9" r="5.3"/><circle cx="691.28" cy="546.5" r="5.3"/><circle cx="712.44" cy="561.6" r="5.3"/><circle cx="744.17" cy="576.7" r="5.3"/><circle cx="754.75" cy="580.7" r="5.3"/><circle cx="765.32" cy="584.2" r="5.3"/><circle cx="775.9" cy="587.2" r="5.3"/><circle cx="786.48" cy="590" r="5.3"/><circle cx="797.05" cy="593" r="5.3"/><circle cx="807.63" cy="595.8" r="5.3"/><circle cx="818.21" cy="598.8" r="5.3"/><circle cx="828.79" cy="603" r="5.3"/><circle cx="839.36" cy="607" r="5.3"/><circle cx="849.94" cy="608.8" r="5.3"/><circle cx="860.52" cy="613" r="5.3"/><circle cx="881.67" cy="622.3" r="5.3"/><circle cx="902.83" cy="630" r="5.3"/><circle cx="934.56" cy="651.2" r="5.3"/><circle cx="955.71" cy="672.5" r="5.3"/><circle cx="966.29" cy="683" r="5.3"/><circle cx="976.86" cy="697.5" r="5.3"/><circle cx="987.44" cy="717" r="5.3"/><circle cx="998.02" cy="752" r="5.3"/></g>
<polyline points="670.13,564 691.28,584.9 712.44,600 744.17,615.1 754.75,617.4 765.32,619.8 775.9,622.5 786.48,623.7 797.05,624.4 807.63,625.6 818.21,626 828.79,626 839.36,626.3 849.94,627 860.52,628 881.67,632.6 902.83,640 934.56,654.2 955.71,668.8 966.29,674.5 976.86,688 987.44,711.2 992.73,731.8 998.02,770.5 999.08,810" fill="none" stroke="#0000ff" stroke-width="1.3" stroke-linejoin="round" clip-path="url(#cd)"/>
<g fill="#0000ff"><circle cx="670.13" cy="564" r="5.3"/><circle cx="691.28" cy="584.9" r="5.3"/><circle cx="712.44" cy="600" r="5.3"/><circle cx="744.17" cy="615.1" r="5.3"/><circle cx="754.75" cy="617.4" r="5.3"/><circle cx="765.32" cy="619.8" r="5.3"/><circle cx="775.9" cy="622.5" r="5.3"/><circle cx="786.48" cy="623.7" r="5.3"/><circle cx="797.05" cy="624.4" r="5.3"/><circle cx="807.63" cy="625.6" r="5.3"/><circle cx="818.21" cy="626" r="5.3"/><circle cx="828.79" cy="626" r="5.3"/><circle cx="839.36" cy="626.3" r="5.3"/><circle cx="849.94" cy="627" r="5.3"/><circle cx="860.52" cy="628" r="5.3"/><circle cx="881.67" cy="632.6" r="5.3"/><circle cx="902.83" cy="640" r="5.3"/><circle cx="934.56" cy="654.2" r="5.3"/><circle cx="955.71" cy="668.8" r="5.3"/><circle cx="966.29" cy="674.5" r="5.3"/><circle cx="976.86" cy="688" r="5.3"/><circle cx="987.44" cy="711.2" r="5.3"/><circle cx="992.73" cy="731.8" r="5.3"/><circle cx="998.02" cy="770.5" r="5.3"/></g>
<polyline points="670.13,615.6 691.28,637.2 712.44,647.7 744.17,650.7 754.75,648.4 765.32,644.7 775.9,640.7 786.48,637.2 797.05,634.4 807.63,631.4 818.21,629 828.79,628.4 839.36,628.4 849.94,628.4 860.52,629 881.67,632 902.83,633.8 934.56,645 955.71,662 966.29,677 976.86,707.5 987.44,768 988.5,810" fill="none" stroke="#008000" stroke-width="1.3" stroke-linejoin="round" clip-path="url(#cd)"/>
<g fill="#008000"><circle cx="670.13" cy="615.6" r="5.3"/><circle cx="691.28" cy="637.2" r="5.3"/><circle cx="712.44" cy="647.7" r="5.3"/><circle cx="744.17" cy="650.7" r="5.3"/><circle cx="754.75" cy="648.4" r="5.3"/><circle cx="765.32" cy="644.7" r="5.3"/><circle cx="775.9" cy="640.7" r="5.3"/><circle cx="786.48" cy="637.2" r="5.3"/><circle cx="797.05" cy="634.4" r="5.3"/><circle cx="807.63" cy="631.4" r="5.3"/><circle cx="818.21" cy="629" r="5.3"/><circle cx="828.79" cy="628.4" r="5.3"/><circle cx="839.36" cy="628.4" r="5.3"/><circle cx="849.94" cy="628.4" r="5.3"/><circle cx="860.52" cy="629" r="5.3"/><circle cx="881.67" cy="632" r="5.3"/><circle cx="902.83" cy="633.8" r="5.3"/><circle cx="934.56" cy="645" r="5.3"/><circle cx="955.71" cy="662" r="5.3"/><circle cx="966.29" cy="677" r="5.3"/><circle cx="976.86" cy="707.5" r="5.3"/><circle cx="987.44" cy="768" r="5.3"/></g>
<polyline points="670.13,644.2 691.28,657 712.44,662.8 744.17,657 754.75,652.8 765.32,647.7 775.9,642.3 786.48,639 797.05,634.4 807.63,631.4 818.21,629 828.79,627.4 839.36,626.3 849.94,626 860.52,626 881.67,627.4 902.83,632 934.56,650.5 955.71,682.5 966.29,720.5 976.86,805" fill="none" stroke="#ff0000" stroke-width="1.3" stroke-linejoin="round" clip-path="url(#cd)"/>
<g fill="#ff0000"><circle cx="670.13" cy="644.2" r="5.3"/><circle cx="691.28" cy="657" r="5.3"/><circle cx="712.44" cy="662.8" r="5.3"/><circle cx="744.17" cy="657" r="5.3"/><circle cx="754.75" cy="652.8" r="5.3"/><circle cx="765.32" cy="647.7" r="5.3"/><circle cx="775.9" cy="642.3" r="5.3"/><circle cx="786.48" cy="639" r="5.3"/><circle cx="797.05" cy="634.4" r="5.3"/><circle cx="807.63" cy="631.4" r="5.3"/><circle cx="818.21" cy="629" r="5.3"/><circle cx="828.79" cy="627.4" r="5.3"/><circle cx="839.36" cy="626.3" r="5.3"/><circle cx="849.94" cy="626" r="5.3"/><circle cx="860.52" cy="626" r="5.3"/><circle cx="881.67" cy="627.4" r="5.3"/><circle cx="902.83" cy="632" r="5.3"/><circle cx="934.56" cy="650.5" r="5.3"/><circle cx="955.71" cy="682.5" r="5.3"/><circle cx="966.29" cy="720.5" r="5.3"/></g>
<text x="638.4" y="814.7" font-size="23.5" text-anchor="middle" stroke="#000" stroke-width="0.45">0</text>
<text x="744.17" y="814.7" font-size="23.5" text-anchor="middle" stroke="#000" stroke-width="0.45">10</text>
<text x="849.94" y="814.7" font-size="23.5" text-anchor="middle" stroke="#000" stroke-width="0.45">20</text>
<text x="955.71" y="814.7" font-size="23.5" text-anchor="middle" stroke="#000" stroke-width="0.45">30</text>
<text x="626.8" y="526.5" font-size="23.5" text-anchor="end" stroke="#000" stroke-width="0.45">10<tspan font-size="16.5" dy="-10">6</tspan></text>
<text x="626.8" y="661.6" font-size="23.5" text-anchor="end" stroke="#000" stroke-width="0.45">10<tspan font-size="16.5" dy="-10">5</tspan></text>
<text x="626.8" y="796.7" font-size="23.5" text-anchor="end" stroke="#000" stroke-width="0.45">10<tspan font-size="16.5" dy="-10">4</tspan></text>
<text x="824.9" y="853" font-size="28.8" text-anchor="middle" stroke="#000" stroke-width="0.45"><tspan font-style="italic">T</tspan> (K)</text>
<text transform="translate(577.9,622.1) rotate(-90)" x="0" y="0" font-size="29" text-anchor="middle" stroke="#000" stroke-width="0.45"><tspan font-style="italic">J</tspan><tspan font-size="20.01" dy="5">c</tspan><tspan dy="-5"> (A/cm</tspan><tspan font-size="20.88" dy="-14">2</tspan><tspan dy="14">)</tspan></text>
<text x="919.7" y="500.6" font-size="29.5" fill="#000000" stroke="#000000" stroke-width="0.45">0.4 T</text>
<text x="919.7" y="541.9" font-size="29.5" fill="#0000ff" stroke="#0000ff" stroke-width="0.45">1 T</text>
<text x="919.7" y="582.9" font-size="29.5" fill="#008000" stroke="#008000" stroke-width="0.45">3 T</text>
<text x="919.7" y="624" font-size="29.5" fill="#ff0000" stroke="#ff0000" stroke-width="0.45">6 T</text>
<text x="539.6" y="479.8" font-size="45" font-weight="bold" stroke="#000" stroke-width="0">d</text>
<clipPath id="ce"><rect x="1161" y="51.3" width="548" height="669.6"/></clipPath>
<rect x="1161" y="51.3" width="548" height="669.6" fill="none" stroke="#000" stroke-width="1.4"/>
<path d="M1317.36,720.9v-11M1317.36,51.3v11M1474.02,720.9v-11M1474.02,51.3v11M1630.68,720.9v-11M1630.68,51.3v11" stroke="#000" stroke-width="1.4" fill="none"/>
<path d="M1239.03,720.9v-6M1239.03,51.3v6M1395.69,720.9v-6M1395.69,51.3v6M1552.35,720.9v-6M1552.35,51.3v6" stroke="#000" stroke-width="1.4" fill="none"/>
<path d="M1161,564.8h11M1709,564.8h-11M1161,341.5h11M1709,341.5h-11M1161,118.2h11M1709,118.2h-11" stroke="#000" stroke-width="1.4" fill="none"/>
<path d="M1161,681.56h5.5M1709,681.56h-5.5M1161,653.66h5.5M1709,653.66h-5.5M1161,632.02h5.5M1709,632.02h-5.5M1161,614.34h5.5M1709,614.34h-5.5M1161,599.39h5.5M1709,599.39h-5.5M1161,586.44h5.5M1709,586.44h-5.5M1161,575.02h5.5M1709,575.02h-5.5M1161,497.58h5.5M1709,497.58h-5.5M1161,458.26h5.5M1709,458.26h-5.5M1161,430.36h5.5M1709,430.36h-5.5M1161,408.72h5.5M1709,408.72h-5.5M1161,391.04h5.5M1709,391.04h-5.5M1161,376.09h5.5M1709,376.09h-5.5M1161,363.14h5.5M1709,363.14h-5.5M1161,351.72h5.5M1709,351.72h-5.5M1161,274.28h5.5M1709,274.28h-5.5M1161,234.96h5.5M1709,234.96h-5.5M1161,207.06h5.5M1709,207.06h-5.5M1161,185.42h5.5M1709,185.42h-5.5M1161,167.74h5.5M1709,167.74h-5.5M1161,152.79h5.5M1709,152.79h-5.5M1161,139.84h5.5M1709,139.84h-5.5M1161,128.42h5.5M1709,128.42h-5.5" stroke="#000" stroke-width="1.4" fill="none"/>
<polyline points="1207.7,109.5 1223.36,126.6 1239.03,140.8 1270.36,165.7 1317.36,195 1364.36,217.4 1395.69,232.1 1474.02,256.8 1552.35,287 1630.68,377.7" fill="none" stroke="#ff0000" stroke-width="1.35" stroke-linejoin="round" clip-path="url(#ce)"/>
<polyline points="1207.7,141.3 1239.03,171.8 1270.36,188.9 1317.36,211.3 1364.36,221.8 1395.69,232 1427.02,244.8 1458.35,303.6 1474.02,367.5 1489.69,440.1 1505.35,544.5 1521.02,760" fill="none" stroke="#ff0000" stroke-width="1.35" stroke-linejoin="round" clip-path="url(#ce)"/>
<polyline points="1207.7,205.8 1239.03,259.7 1270.36,308.1 1317.36,375.5 1364.36,448.5 1395.69,499.4 1442.69,611.3 1474.02,671.3 1505.35,743" fill="none" stroke="#ff0000" stroke-width="1.35" stroke-linejoin="round" clip-path="url(#ce)"/>
<polyline points="1207.7,179.8 1223.36,187.7 1239.03,195.6 1270.36,211.6 1317.36,240.6 1364.36,286.3 1395.69,345.4 1427.02,518 1442.69,990" fill="none" stroke="#0000ff" stroke-width="1.35" stroke-linejoin="round" clip-path="url(#ce)"/>
<polyline points="1207.7,381.3 1239.03,484.3 1254.7,576.3 1270.36,849" fill="none" stroke="#0000ff" stroke-width="1.35" stroke-linejoin="round" clip-path="url(#ce)"/>
<polyline points="1207.7,312 1223.36,317.8 1239.03,323 1270.36,334.9 1317.36,365.1" fill="none" stroke="#0000ff" stroke-width="1.35" stroke-linejoin="round" clip-path="url(#ce)"/>
<polyline points="1207.7,325.5 1239.03,335.5 1270.36,346.5 1301.69,363.3 1333.03,391.2 1364.36,465.5 1380.02,560.6 1395.69,708.8 1396.47,800" fill="none" stroke="#0000ff" stroke-width="1.35" stroke-linejoin="round" clip-path="url(#ce)"/>
<polyline points="1207.7,258.5 1223.36,266.3 1239.03,273.1 1270.36,285.4 1317.36,305.1 1364.36,327.6 1395.69,337.4 1427.02,358.6 1474.02,415 1505.35,460 1536.68,613.7 1552.35,950" fill="none" stroke="#008000" stroke-width="1.35" stroke-linejoin="round" clip-path="url(#ce)"/>
<polyline points="1192.03,359.3 1239.03,390.4 1270.36,432.6 1301.69,621.9 1317.36,802" fill="none" stroke="#008000" stroke-width="1.35" stroke-linejoin="round" clip-path="url(#ce)"/>
<polyline points="1239.03,460.7 1270.36,461.9 1301.69,452.1 1333.03,444 1364.36,443.1 1395.69,442.7 1427.02,447 1474.02,563.4 1489.69,798" fill="none" stroke="#008000" stroke-width="1.35" stroke-linejoin="round" clip-path="url(#ce)"/>
<g clip-path="url(#ce)"><circle cx="1207.7" cy="109.5" r="4.35" fill="#fff" stroke="#ff0000" stroke-width="1.4"/><circle cx="1223.36" cy="126.6" r="4.35" fill="#fff" stroke="#ff0000" stroke-width="1.4"/><circle cx="1239.03" cy="140.8" r="4.35" fill="#fff" stroke="#ff0000" stroke-width="1.4"/><circle cx="1270.36" cy="165.7" r="4.35" fill="#fff" stroke="#ff0000" stroke-width="1.4"/><circle cx="1317.36" cy="195" r="4.35" fill="#fff" stroke="#ff0000" stroke-width="1.4"/><circle cx="1364.36" cy="217.4" r="4.35" fill="#fff" stroke="#ff0000" stroke-width="1.4"/><circle cx="1395.69" cy="232.1" r="4.35" fill="#fff" stroke="#ff0000" stroke-width="1.4"/><circle cx="1474.02" cy="256.8" r="4.35" fill="#fff" stroke="#ff0000" stroke-width="1.4"/><circle cx="1552.35" cy="287" r="4.35" fill="#fff" stroke="#ff0000" stroke-width="1.4"/><circle cx="1630.68" cy="377.7" r="4.35" fill="#fff" stroke="#ff0000" stroke-width="1.4"/></g>
<g clip-path="url(#ce)"><path d="M1207.7,136.71 L1213.3,145.89 L1202.1,145.89 Z" fill="#fff" stroke="#ff0000" stroke-width="1.4" stroke-linejoin="miter"/><path d="M1239.03,167.21 L1244.63,176.39 L1233.43,176.39 Z" fill="#fff" stroke="#ff0000" stroke-width="1.4" stroke-linejoin="miter"/><path d="M1270.36,184.31 L1275.96,193.49 L1264.76,193.49 Z" fill="#fff" stroke="#ff0000" stroke-width="1.4" stroke-linejoin="miter"/><path d="M1317.36,206.71 L1322.96,215.89 L1311.76,215.89 Z" fill="#fff" stroke="#ff0000" stroke-width="1.4" stroke-linejoin="miter"/><path d="M1364.36,217.21 L1369.96,226.39 L1358.76,226.39 Z" fill="#fff" stroke="#ff0000" stroke-width="1.4" stroke-linejoin="miter"/><path d="M1395.69,227.41 L1401.29,236.59 L1390.09,236.59 Z" fill="#fff" stroke="#ff0000" stroke-width="1.4" stroke-linejoin="miter"/><path d="M1427.02,240.21 L1432.62,249.39 L1421.42,249.39 Z" fill="#fff" stroke="#ff0000" stroke-width="1.4" stroke-linejoin="miter"/><path d="M1458.35,299.01 L1463.95,308.19 L1452.75,308.19 Z" fill="#fff" stroke="#ff0000" stroke-width="1.4" stroke-linejoin="miter"/><path d="M1474.02,362.91 L1479.62,372.09 L1468.42,372.09 Z" fill="#fff" stroke="#ff0000" stroke-width="1.4" stroke-linejoin="miter"/><path d="M1489.69,435.51 L1495.29,444.69 L1484.09,444.69 Z" fill="#fff" stroke="#ff0000" stroke-width="1.4" stroke-linejoin="miter"/><path d="M1505.35,539.91 L1510.95,549.09 L1499.75,549.09 Z" fill="#fff" stroke="#ff0000" stroke-width="1.4" stroke-linejoin="miter"/></g>
<g clip-path="url(#ce)"><rect x="1203.85" y="201.95" width="7.7" height="7.7" fill="#fff" stroke="#ff0000" stroke-width="1.4"/><rect x="1235.18" y="255.85" width="7.7" height="7.7" fill="#fff" stroke="#ff0000" stroke-width="1.4"/><rect x="1266.51" y="304.25" width="7.7" height="7.7" fill="#fff" stroke="#ff0000" stroke-width="1.4"/><rect x="1313.51" y="371.65" width="7.7" height="7.7" fill="#fff" stroke="#ff0000" stroke-width="1.4"/><rect x="1360.51" y="444.65" width="7.7" height="7.7" fill="#fff" stroke="#ff0000" stroke-width="1.4"/><rect x="1391.84" y="495.55" width="7.7" height="7.7" fill="#fff" stroke="#ff0000" stroke-width="1.4"/><rect x="1438.84" y="607.45" width="7.7" height="7.7" fill="#fff" stroke="#ff0000" stroke-width="1.4"/><rect x="1470.17" y="667.45" width="7.7" height="7.7" fill="#fff" stroke="#ff0000" stroke-width="1.4"/></g>
<g clip-path="url(#ce)"><circle cx="1207.7" cy="179.8" r="4.35" fill="#fff" stroke="#0000ff" stroke-width="1.4"/><circle cx="1223.36" cy="187.7" r="4.35" fill="#fff" stroke="#0000ff" stroke-width="1.4"/><circle cx="1239.03" cy="195.6" r="4.35" fill="#fff" stroke="#0000ff" stroke-width="1.4"/><circle cx="1270.36" cy="211.6" r="4.35" fill="#fff" stroke="#0000ff" stroke-width="1.4"/><circle cx="1317.36" cy="240.6" r="4.35" fill="#fff" stroke="#0000ff" stroke-width="1.4"/><circle cx="1364.36" cy="286.3" r="4.35" fill="#fff" stroke="#0000ff" stroke-width="1.4"/><circle cx="1395.69" cy="345.4" r="4.35" fill="#fff" stroke="#0000ff" stroke-width="1.4"/><circle cx="1427.02" cy="518" r="4.35" fill="#fff" stroke="#0000ff" stroke-width="1.4"/></g>
<g clip-path="url(#ce)"><path d="M1207.7,376.71 L1213.3,385.89 L1202.1,385.89 Z" fill="#fff" stroke="#0000ff" stroke-width="1.4" stroke-linejoin="miter"/><path d="M1239.03,479.71 L1244.63,488.89 L1233.43,488.89 Z" fill="#fff" stroke="#0000ff" stroke-width="1.4" stroke-linejoin="miter"/><path d="M1254.7,571.71 L1260.3,580.89 L1249.1,580.89 Z" fill="#fff" stroke="#0000ff" stroke-width="1.4" stroke-linejoin="miter"/></g>
<g clip-path="url(#ce)"><rect x="1203.85" y="308.15" width="7.7" height="7.7" fill="#fff" stroke="#0000ff" stroke-width="1.4"/><rect x="1219.51" y="313.95" width="7.7" height="7.7" fill="#fff" stroke="#0000ff" stroke-width="1.4"/><rect x="1235.18" y="319.15" width="7.7" height="7.7" fill="#fff" stroke="#0000ff" stroke-width="1.4"/><rect x="1266.51" y="331.05" width="7.7" height="7.7" fill="#fff" stroke="#0000ff" stroke-width="1.4"/><rect x="1313.51" y="361.25" width="7.7" height="7.7" fill="#fff" stroke="#0000ff" stroke-width="1.4"/></g>
<g clip-path="url(#ce)"><rect x="1203.85" y="321.65" width="7.7" height="7.7" fill="#fff" stroke="#0000ff" stroke-width="1.4"/><rect x="1235.18" y="331.65" width="7.7" height="7.7" fill="#fff" stroke="#0000ff" stroke-width="1.4"/><rect x="1266.51" y="342.65" width="7.7" height="7.7" fill="#fff" stroke="#0000ff" stroke-width="1.4"/><rect x="1297.84" y="359.45" width="7.7" height="7.7" fill="#fff" stroke="#0000ff" stroke-width="1.4"/><rect x="1329.18" y="387.35" width="7.7" height="7.7" fill="#fff" stroke="#0000ff" stroke-width="1.4"/><rect x="1360.51" y="461.65" width="7.7" height="7.7" fill="#fff" stroke="#0000ff" stroke-width="1.4"/><rect x="1376.17" y="556.75" width="7.7" height="7.7" fill="#fff" stroke="#0000ff" stroke-width="1.4"/><rect x="1391.84" y="704.95" width="7.7" height="7.7" fill="#fff" stroke="#0000ff" stroke-width="1.4"/></g>
<g clip-path="url(#ce)"><circle cx="1207.7" cy="258.5" r="4.35" fill="#fff" stroke="#008000" stroke-width="1.4"/><circle cx="1223.36" cy="266.3" r="4.35" fill="#fff" stroke="#008000" stroke-width="1.4"/><circle cx="1239.03" cy="273.1" r="4.35" fill="#fff" stroke="#008000" stroke-width="1.4"/><circle cx="1270.36" cy="285.4" r="4.35" fill="#fff" stroke="#008000" stroke-width="1.4"/><circle cx="1317.36" cy="305.1" r="4.35" fill="#fff" stroke="#008000" stroke-width="1.4"/><circle cx="1364.36" cy="327.6" r="4.35" fill="#fff" stroke="#008000" stroke-width="1.4"/><circle cx="1395.69" cy="337.4" r="4.35" fill="#fff" stroke="#008000" stroke-width="1.4"/><circle cx="1427.02" cy="358.6" r="4.35" fill="#fff" stroke="#008000" stroke-width="1.4"/><circle cx="1474.02" cy="415" r="4.35" fill="#fff" stroke="#008000" stroke-width="1.4"/><circle cx="1505.35" cy="460" r="4.35" fill="#fff" stroke="#008000" stroke-width="1.4"/><circle cx="1536.68" cy="613.7" r="4.35" fill="#fff" stroke="#008000" stroke-width="1.4"/></g>
<g clip-path="url(#ce)"><path d="M1192.03,354.71 L1197.63,363.89 L1186.43,363.89 Z" fill="#fff" stroke="#008000" stroke-width="1.4" stroke-linejoin="miter"/><path d="M1239.03,385.81 L1244.63,394.99 L1233.43,394.99 Z" fill="#fff" stroke="#008000" stroke-width="1.4" stroke-linejoin="miter"/><path d="M1270.36,428.01 L1275.96,437.19 L1264.76,437.19 Z" fill="#fff" stroke="#008000" stroke-width="1.4" stroke-linejoin="miter"/><path d="M1301.69,617.31 L1307.29,626.49 L1296.09,626.49 Z" fill="#fff" stroke="#008000" stroke-width="1.4" stroke-linejoin="miter"/></g>
<g clip-path="url(#ce)"><rect x="1235.18" y="456.85" width="7.7" height="7.7" fill="#fff" stroke="#008000" stroke-width="1.4"/><rect x="1266.51" y="458.05" width="7.7" height="7.7" fill="#fff" stroke="#008000" stroke-width="1.4"/><rect x="1297.84" y="448.25" width="7.7" height="7.7" fill="#fff" stroke="#008000" stroke-width="1.4"/><rect x="1329.18" y="440.15" width="7.7" height="7.7" fill="#fff" stroke="#008000" stroke-width="1.4"/><rect x="1360.51" y="439.25" width="7.7" height="7.7" fill="#fff" stroke="#008000" stroke-width="1.4"/><rect x="1391.84" y="438.85" width="7.7" height="7.7" fill="#fff" stroke="#008000" stroke-width="1.4"/><rect x="1423.17" y="443.15" width="7.7" height="7.7" fill="#fff" stroke="#008000" stroke-width="1.4"/><rect x="1470.17" y="559.55" width="7.7" height="7.7" fill="#fff" stroke="#008000" stroke-width="1.4"/></g>
<polyline points="1207.7,324.5 1239.03,345.5 1270.36,355.2 1317.36,345.5 1333.03,339 1348.69,331.4 1364.36,323.5 1380.02,316.1 1395.69,309.8 1411.36,303.6 1427.02,299.7 1442.69,296.7 1458.35,294.6 1474.02,294.1 1489.69,294.1 1521.02,297.2 1552.35,304.9 1599.35,335.5 1630.68,389.2 1646.35,451.1 1662.01,582.9 1666.71,800" fill="none" stroke="#000000" stroke-width="1.35" stroke-linejoin="round" clip-path="url(#ce)"/>
<g clip-path="url(#ce)"><path d="M1207.7,314.5 L1209.94,321.41 L1217.21,321.41 L1211.33,325.68 L1213.58,332.59 L1207.7,328.32 L1201.82,332.59 L1204.06,325.68 L1198.19,321.41 L1205.45,321.41Z" fill="#ffff00" stroke="#000" stroke-width="1.5" stroke-linejoin="miter"/><path d="M1239.03,335.5 L1241.28,342.41 L1248.54,342.41 L1242.66,346.68 L1244.91,353.59 L1239.03,349.32 L1233.15,353.59 L1235.4,346.68 L1229.52,342.41 L1236.78,342.41Z" fill="#ffff00" stroke="#000" stroke-width="1.5" stroke-linejoin="miter"/><path d="M1270.36,345.2 L1272.61,352.11 L1279.87,352.11 L1274,356.38 L1276.24,363.29 L1270.36,359.02 L1264.48,363.29 L1266.73,356.38 L1260.85,352.11 L1268.12,352.11Z" fill="#ffff00" stroke="#000" stroke-width="1.5" stroke-linejoin="miter"/><path d="M1317.36,335.5 L1319.61,342.41 L1326.87,342.41 L1320.99,346.68 L1323.24,353.59 L1317.36,349.32 L1311.48,353.59 L1313.73,346.68 L1307.85,342.41 L1315.11,342.41Z" fill="#ffff00" stroke="#000" stroke-width="1.5" stroke-linejoin="miter"/><path d="M1333.03,329 L1335.27,335.91 L1342.54,335.91 L1336.66,340.18 L1338.9,347.09 L1333.03,342.82 L1327.15,347.09 L1329.39,340.18 L1323.52,335.91 L1330.78,335.91Z" fill="#ffff00" stroke="#000" stroke-width="1.5" stroke-linejoin="miter"/><path d="M1348.69,321.4 L1350.94,328.31 L1358.2,328.31 L1352.33,332.58 L1354.57,339.49 L1348.69,335.22 L1342.81,339.49 L1345.06,332.58 L1339.18,328.31 L1346.45,328.31Z" fill="#ffff00" stroke="#000" stroke-width="1.5" stroke-linejoin="miter"/><path d="M1364.36,313.5 L1366.6,320.41 L1373.87,320.41 L1367.99,324.68 L1370.24,331.59 L1364.36,327.32 L1358.48,331.59 L1360.72,324.68 L1354.85,320.41 L1362.11,320.41Z" fill="#ffff00" stroke="#000" stroke-width="1.5" stroke-linejoin="miter"/><path d="M1380.02,306.1 L1382.27,313.01 L1389.53,313.01 L1383.66,317.28 L1385.9,324.19 L1380.02,319.92 L1374.15,324.19 L1376.39,317.28 L1370.51,313.01 L1377.78,313.01Z" fill="#ffff00" stroke="#000" stroke-width="1.5" stroke-linejoin="miter"/><path d="M1395.69,299.8 L1397.94,306.71 L1405.2,306.71 L1399.32,310.98 L1401.57,317.89 L1395.69,313.62 L1389.81,317.89 L1392.06,310.98 L1386.18,306.71 L1393.44,306.71Z" fill="#ffff00" stroke="#000" stroke-width="1.5" stroke-linejoin="miter"/><path d="M1411.36,293.6 L1413.6,300.51 L1420.87,300.51 L1414.99,304.78 L1417.23,311.69 L1411.36,307.42 L1405.48,311.69 L1407.72,304.78 L1401.85,300.51 L1409.11,300.51Z" fill="#ffff00" stroke="#000" stroke-width="1.5" stroke-linejoin="miter"/><path d="M1427.02,289.7 L1429.27,296.61 L1436.53,296.61 L1430.66,300.88 L1432.9,307.79 L1427.02,303.52 L1421.14,307.79 L1423.39,300.88 L1417.51,296.61 L1424.78,296.61Z" fill="#ffff00" stroke="#000" stroke-width="1.5" stroke-linejoin="miter"/><path d="M1442.69,286.7 L1444.93,293.61 L1452.2,293.61 L1446.32,297.88 L1448.57,304.79 L1442.69,300.52 L1436.81,304.79 L1439.05,297.88 L1433.18,293.61 L1440.44,293.61Z" fill="#ffff00" stroke="#000" stroke-width="1.5" stroke-linejoin="miter"/><path d="M1458.35,284.6 L1460.6,291.51 L1467.86,291.51 L1461.99,295.78 L1464.23,302.69 L1458.35,298.42 L1452.48,302.69 L1454.72,295.78 L1448.84,291.51 L1456.11,291.51Z" fill="#ffff00" stroke="#000" stroke-width="1.5" stroke-linejoin="miter"/><path d="M1474.02,284.1 L1476.27,291.01 L1483.53,291.01 L1477.65,295.28 L1479.9,302.19 L1474.02,297.92 L1468.14,302.19 L1470.39,295.28 L1464.51,291.01 L1471.77,291.01Z" fill="#ffff00" stroke="#000" stroke-width="1.5" stroke-linejoin="miter"/><path d="M1489.69,284.1 L1491.93,291.01 L1499.2,291.01 L1493.32,295.28 L1495.56,302.19 L1489.69,297.92 L1483.81,302.19 L1486.05,295.28 L1480.18,291.01 L1487.44,291.01Z" fill="#ffff00" stroke="#000" stroke-width="1.5" stroke-linejoin="miter"/><path d="M1521.02,287.2 L1523.26,294.11 L1530.53,294.11 L1524.65,298.38 L1526.9,305.29 L1521.02,301.02 L1515.14,305.29 L1517.38,298.38 L1511.51,294.11 L1518.77,294.11Z" fill="#ffff00" stroke="#000" stroke-width="1.5" stroke-linejoin="miter"/><path d="M1552.35,294.9 L1554.6,301.81 L1561.86,301.81 L1555.98,306.08 L1558.23,312.99 L1552.35,308.72 L1546.47,312.99 L1548.72,306.08 L1542.84,301.81 L1550.1,301.81Z" fill="#ffff00" stroke="#000" stroke-width="1.5" stroke-linejoin="miter"/><path d="M1599.35,325.5 L1601.59,332.41 L1608.86,332.41 L1602.98,336.68 L1605.23,343.59 L1599.35,339.32 L1593.47,343.59 L1595.71,336.68 L1589.84,332.41 L1597.1,332.41Z" fill="#ffff00" stroke="#000" stroke-width="1.5" stroke-linejoin="miter"/><path d="M1630.68,379.2 L1632.93,386.11 L1640.19,386.11 L1634.31,390.38 L1636.56,397.29 L1630.68,393.02 L1624.8,397.29 L1627.05,390.38 L1621.17,386.11 L1628.43,386.11Z" fill="#ffff00" stroke="#000" stroke-width="1.5" stroke-linejoin="miter"/><path d="M1646.35,441.1 L1648.59,448.01 L1655.86,448.01 L1649.98,452.28 L1652.22,459.19 L1646.35,454.92 L1640.47,459.19 L1642.71,452.28 L1636.84,448.01 L1644.1,448.01Z" fill="#ffff00" stroke="#000" stroke-width="1.5" stroke-linejoin="miter"/><path d="M1662.01,572.9 L1664.26,579.81 L1671.52,579.81 L1665.65,584.08 L1667.89,590.99 L1662.01,586.72 L1656.13,590.99 L1658.38,584.08 L1652.5,579.81 L1659.77,579.81Z" fill="#ffff00" stroke="#000" stroke-width="1.5" stroke-linejoin="miter"/></g>
<text x="1160.7" y="747.6" font-size="25" text-anchor="middle" stroke="#000" stroke-width="0.45">0</text>
<text x="1317.36" y="747.6" font-size="25" text-anchor="middle" stroke="#000" stroke-width="0.45">10</text>
<text x="1474.02" y="747.6" font-size="25" text-anchor="middle" stroke="#000" stroke-width="0.45">20</text>
<text x="1630.68" y="747.6" font-size="25" text-anchor="middle" stroke="#000" stroke-width="0.45">30</text>
<text x="1148.6" y="125.8" font-size="23.5" text-anchor="end" stroke="#000" stroke-width="0.45">10<tspan font-size="16.5" dy="-11">6</tspan></text>
<text x="1148.6" y="349.1" font-size="23.5" text-anchor="end" stroke="#000" stroke-width="0.45">10<tspan font-size="16.5" dy="-11">5</tspan></text>
<text x="1148.6" y="572.4" font-size="23.5" text-anchor="end" stroke="#000" stroke-width="0.45">10<tspan font-size="16.5" dy="-11">4</tspan></text>
<text x="1436.5" y="787.9" font-size="30" text-anchor="middle" stroke="#000" stroke-width="0.45"><tspan font-style="italic">T</tspan> (K)</text>
<text transform="translate(1091.7,385.5) rotate(-90)" x="0" y="0" font-size="30" text-anchor="middle" stroke="#000" stroke-width="0.45"><tspan font-style="italic">J</tspan><tspan font-size="20.7" dy="5">c</tspan><tspan dy="-5"> (A/cm</tspan><tspan font-size="21.6" dy="-14">2</tspan><tspan dy="14">)</tspan></text>
<text x="1561" y="123.9" font-size="34.4" stroke="#000" stroke-width="0.45">@ 6 T</text>
<text x="1070" y="56.7" font-size="45" font-weight="bold" stroke="#000" stroke-width="0">e</text>
<path d="M1729.1,94 H1796" stroke="#000" stroke-width="1.8"/>
<path d="M1762.5,80.8 L1765.82,91.03 L1776.58,91.03 L1767.88,97.35 L1771.2,107.57 L1762.5,101.25 L1753.8,107.57 L1757.12,97.35 L1748.42,91.03 L1759.18,91.03Z" fill="#ffff00" stroke="#000" stroke-width="2.2" stroke-linejoin="miter"/>
<text x="1807.6" y="104.9" font-size="30" stroke="#000" stroke-width="0.45">CaKFe<tspan font-size="20" dy="7">4</tspan><tspan dy="-7">As</tspan><tspan font-size="20" dy="7">4</tspan></text>
<text x="1748.3" y="174.9" font-size="30" stroke="#000" stroke-width="0.45">Ba<tspan font-size="20" dy="7">1-<tspan font-style="italic">x</tspan></tspan><tspan dy="-7">K</tspan><tspan font-size="20" dy="7" font-style="italic">x</tspan><tspan dy="-7">Fe</tspan><tspan font-size="20" dy="7">2</tspan><tspan dy="-7">As</tspan><tspan font-size="20" dy="7">2</tspan></text>
<text x="1748.3" y="371.5" font-size="30" stroke="#000" stroke-width="0.45">Ba(Fe<tspan font-size="20" dy="7">1-<tspan font-style="italic">x</tspan></tspan><tspan dy="-7">Co</tspan><tspan font-size="20" dy="7" font-style="italic">x</tspan><tspan dy="-7">)</tspan><tspan font-size="20" dy="7">2</tspan><tspan dy="-7">As</tspan><tspan font-size="20" dy="7">2</tspan></text>
<text x="1748.3" y="568.7" font-size="30" stroke="#000" stroke-width="0.45">BaFe<tspan font-size="20" dy="7">2</tspan><tspan dy="-7">(As</tspan><tspan font-size="20" dy="7">1-<tspan font-style="italic">x</tspan></tspan><tspan dy="-7">P</tspan><tspan font-size="20" dy="7" font-style="italic">x</tspan><tspan dy="-7">)</tspan><tspan font-size="20" dy="7">2</tspan></text>
<path d="M1763,216.4 H1829.6" stroke="#ff0000" stroke-width="2"/>
<path d="M1796.3,208.04 L1806.5,224.76 L1786.1,224.76 Z" fill="#fff" stroke="#ff0000" stroke-width="2" stroke-linejoin="miter"/>
<text x="1854.5" y="221.8" font-size="25" stroke="#000" stroke-width="0.45"><tspan font-style="italic">x</tspan> = 0.25</text>
<path d="M1763,253.8 H1829.6" stroke="#ff0000" stroke-width="2"/>
<circle cx="1796.3" cy="253.8" r="9.4" fill="#fff" stroke="#ff0000" stroke-width="2"/>
<text x="1854.5" y="265.6" font-size="25" stroke="#000" stroke-width="0.45"><tspan font-style="italic">x</tspan> = 0.30</text>
<path d="M1763,300.7 H1829.6" stroke="#ff0000" stroke-width="2"/>
<rect x="1787.1" y="291.5" width="18.4" height="18.4" fill="#fff" stroke="#ff0000" stroke-width="2"/>
<text x="1854.5" y="309.9" font-size="25" stroke="#000" stroke-width="0.45"><tspan font-style="italic">x</tspan> = 0.41</text>
<path d="M1763,410.7 H1829.6" stroke="#0000ff" stroke-width="2"/>
<path d="M1796.3,402.34 L1806.5,419.06 L1786.1,419.06 Z" fill="#fff" stroke="#0000ff" stroke-width="2" stroke-linejoin="miter"/>
<text x="1854.5" y="418" font-size="25" stroke="#000" stroke-width="0.45"><tspan font-style="italic">x</tspan> = 0.05</text>
<path d="M1759.5,457.2 H1826.1" stroke="#0000ff" stroke-width="2"/>
<circle cx="1792.8" cy="457.2" r="9.4" fill="#fff" stroke="#0000ff" stroke-width="2"/>
<text x="1854.5" y="461.3" font-size="25" stroke="#000" stroke-width="0.45"><tspan font-style="italic">x</tspan> = 0.06</text>
<path d="M1763,501.2 H1829.6" stroke="#0000ff" stroke-width="2"/>
<rect x="1787.1" y="492" width="18.4" height="18.4" fill="#fff" stroke="#0000ff" stroke-width="2"/>
<text x="1854.5" y="505" font-size="25" stroke="#000" stroke-width="0.45"><tspan font-style="italic">x</tspan> = 0.08</text>
<path d="M1763.2,610.6 H1829.8" stroke="#008000" stroke-width="2"/>
<path d="M1796.5,602.24 L1806.7,618.96 L1786.3,618.96 Z" fill="#fff" stroke="#008000" stroke-width="2" stroke-linejoin="miter"/>
<text x="1854.5" y="615.6" font-size="25" stroke="#000" stroke-width="0.45"><tspan font-style="italic">x</tspan> = 0.24</text>
<path d="M1763.2,654.3 H1829.8" stroke="#008000" stroke-width="2"/>
<circle cx="1796.5" cy="654.3" r="9.4" fill="#fff" stroke="#008000" stroke-width="2"/>
<text x="1854.5" y="661.1" font-size="25" stroke="#000" stroke-width="0.45"><tspan font-style="italic">x</tspan> = 0.30</text>
<path d="M1763.2,694.6 H1829.8" stroke="#008000" stroke-width="2"/>
<rect x="1787.3" y="685.4" width="18.4" height="18.4" fill="#fff" stroke="#008000" stroke-width="2"/>
<text x="1854.5" y="705.8" font-size="25" stroke="#000" stroke-width="0.45"><tspan font-style="italic">x</tspan> = 0.38</text></svg>
</body></html>
